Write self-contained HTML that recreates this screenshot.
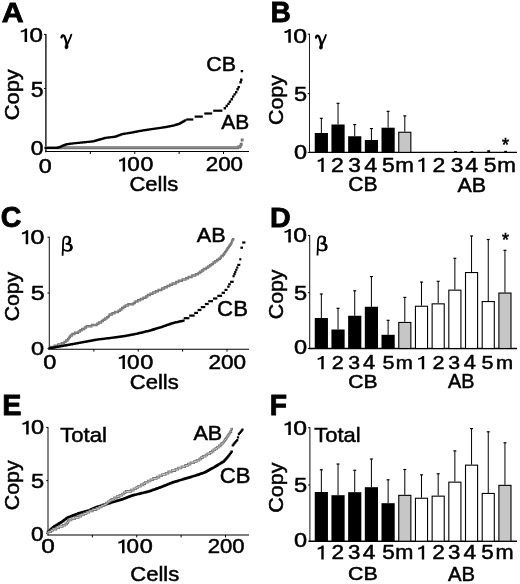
<!DOCTYPE html>
<html><head><meta charset="utf-8"><title>Figure</title>
<style>
html,body{margin:0;padding:0;background:#fff;}
body{width:520px;height:584px;overflow:hidden;font-family:"Liberation Sans",sans-serif;}
svg{display:block;}
text{fill:#000;stroke:#000;font-family:"Liberation Sans",sans-serif;paint-order:stroke fill;}
</style></head><body>
<svg width="520" height="584" viewBox="0 0 520 584">
<defs><filter id="soft" x="0" y="0" width="520" height="584" filterUnits="userSpaceOnUse"><feGaussianBlur stdDeviation="0.3"/></filter></defs>
<rect width="520" height="584" fill="#fff"/>
<g filter="url(#soft)">
<rect width="520" height="584" fill="#fff"/>
<text transform="translate(1.72,21.82) scale(1.0627,1)" font-size="28.58" font-weight="bold" stroke-width="0.8">A</text>
<text transform="translate(270.48,22.02) scale(0.9593,1)" font-size="29.31" font-weight="bold" stroke-width="0.8">B</text>
<text transform="translate(0.73,227.23) scale(0.9621,1)" font-size="29.75" font-weight="bold" stroke-width="0.8">C</text>
<text transform="translate(270.04,226.92) scale(1.0076,1)" font-size="28.44" font-weight="bold" stroke-width="0.8">D</text>
<text transform="translate(2.23,414.62) scale(0.9791,1)" font-size="29.45" font-weight="bold" stroke-width="0.8">E</text>
<text transform="translate(269.77,414.62) scale(0.9696,1)" font-size="29.16" font-weight="bold" stroke-width="0.8">F</text>
<line x1="45.90" y1="34.00" x2="45.90" y2="152.15" stroke="#000" stroke-width="1.3"/>
<line x1="45.30" y1="151.55" x2="249.00" y2="151.55" stroke="#000" stroke-width="1.1"/>
<line x1="44.10" y1="34.40" x2="45.90" y2="34.40" stroke="#000" stroke-width="1.0"/>
<line x1="44.10" y1="88.50" x2="45.90" y2="88.50" stroke="#000" stroke-width="1.0"/>
<line x1="44.10" y1="148.00" x2="45.90" y2="148.00" stroke="#000" stroke-width="1.0"/>
<line x1="90.38" y1="151.55" x2="90.38" y2="153.95" stroke="#000" stroke-width="1.0"/>
<line x1="134.75" y1="151.55" x2="134.75" y2="153.95" stroke="#000" stroke-width="1.0"/>
<line x1="179.12" y1="151.55" x2="179.12" y2="153.95" stroke="#000" stroke-width="1.0"/>
<line x1="223.50" y1="151.55" x2="223.50" y2="153.95" stroke="#000" stroke-width="1.0"/>
<path d="M27.10 28.40V42.00H24.58V31.32C23.19 32.07 21.56 32.48 20.80 32.48V30.58C22.56 30.51 24.20 29.76 25.21 28.40Z" fill="#000"/>
<text transform="translate(29.46,41.88) scale(1.2446,1)" font-size="19.43" font-weight="normal" stroke-width="0.5">0</text>
<text transform="translate(30.80,96.96) scale(1.0755,1)" font-size="21.43" font-weight="normal" stroke-width="0.5">5</text>
<text transform="translate(30.71,154.67) scale(1.1151,1)" font-size="20.57" font-weight="normal" stroke-width="0.5">0</text>
<text transform="translate(38.79,172.67) scale(1.1125,1)" font-size="20.99" font-weight="normal" stroke-width="0.5">0</text>
<path d="M125.10 157.50V171.40H122.66V160.49C121.32 161.25 119.73 161.67 119.00 161.67V159.72C120.71 159.65 122.29 158.89 123.27 157.50Z" fill="#000"/>
<text transform="translate(127.22,171.28) scale(1.1337,1)" font-size="19.86" font-weight="normal" stroke-width="0.5">0</text>
<text transform="translate(140.40,171.28) scale(1.1653,1)" font-size="19.86" font-weight="normal" stroke-width="0.5">0</text>
<text transform="translate(205.71,171.38) scale(1.1187,1)" font-size="20.00" font-weight="normal" stroke-width="0.5">200</text>
<text transform="translate(129.42,191.17) scale(1.0822,1)" font-size="20.34" font-weight="normal" stroke-width="0.5">Cells</text>
<text transform="translate(19.14,120.27) rotate(-90) scale(1.0972,1)" font-size="19.94" stroke-width="0.5">Copy</text>
<text transform="translate(206.36,71.27) scale(1.0334,1)" font-size="20.71" font-weight="normal" stroke-width="0.5">CB</text>
<text transform="translate(221.17,129.28) scale(1.0264,1)" font-size="20.44" font-weight="normal" stroke-width="0.5">AB</text>
<g transform="translate(0.00,0.00)" fill="none" stroke="#000" stroke-linecap="round"><path d="M61.5 37.4 C61.7 35.3 63.6 34.4 64.6 36.6 C65.6 39.2 66.4 41.6 66.7 44" stroke-width="2.3"/><path d="M71.4 34.6 C70.4 38 68.6 41.6 67.4 44.2" stroke-width="1.8"/><path d="M67 42.6 C65.6 44 64.8 46.5 65 47.8 C65.2 49.3 67.4 49.3 67.9 47.8 C68.3 46.5 67.9 44 67 42.6 Z" fill="#000" stroke-width="0.6"/></g>
<path d="M44.55 146.25h2.9v2.9h-2.9zM45.44 146.25h2.9v2.9h-2.9zM46.32 146.25h2.9v2.9h-2.9zM47.21 146.25h2.9v2.9h-2.9zM48.10 146.25h2.9v2.9h-2.9zM48.99 146.25h2.9v2.9h-2.9zM49.88 146.25h2.9v2.9h-2.9zM50.76 146.25h2.9v2.9h-2.9zM51.65 146.25h2.9v2.9h-2.9zM52.54 146.25h2.9v2.9h-2.9zM53.42 146.25h2.9v2.9h-2.9zM54.31 146.25h2.9v2.9h-2.9zM55.20 146.25h2.9v2.9h-2.9zM56.09 146.25h2.9v2.9h-2.9zM56.97 146.25h2.9v2.9h-2.9zM57.86 146.25h2.9v2.9h-2.9zM58.75 146.25h2.9v2.9h-2.9zM59.64 146.25h2.9v2.9h-2.9zM60.52 146.25h2.9v2.9h-2.9zM61.41 146.25h2.9v2.9h-2.9zM62.30 146.25h2.9v2.9h-2.9zM63.19 146.25h2.9v2.9h-2.9zM64.08 146.25h2.9v2.9h-2.9zM64.96 146.25h2.9v2.9h-2.9zM65.85 146.25h2.9v2.9h-2.9zM66.74 146.25h2.9v2.9h-2.9zM67.62 146.25h2.9v2.9h-2.9zM68.51 146.25h2.9v2.9h-2.9zM69.40 146.25h2.9v2.9h-2.9zM70.29 146.25h2.9v2.9h-2.9zM71.17 146.25h2.9v2.9h-2.9zM72.06 146.25h2.9v2.9h-2.9zM72.95 146.25h2.9v2.9h-2.9zM73.84 146.25h2.9v2.9h-2.9zM74.72 146.25h2.9v2.9h-2.9zM75.61 146.25h2.9v2.9h-2.9zM76.50 146.25h2.9v2.9h-2.9zM77.39 146.25h2.9v2.9h-2.9zM78.27 146.25h2.9v2.9h-2.9zM79.16 146.25h2.9v2.9h-2.9zM80.05 146.25h2.9v2.9h-2.9zM80.94 146.25h2.9v2.9h-2.9zM81.83 146.25h2.9v2.9h-2.9zM82.71 146.25h2.9v2.9h-2.9zM83.60 146.25h2.9v2.9h-2.9zM84.49 146.25h2.9v2.9h-2.9zM85.37 146.25h2.9v2.9h-2.9zM86.26 146.25h2.9v2.9h-2.9zM87.15 146.25h2.9v2.9h-2.9zM88.04 146.25h2.9v2.9h-2.9zM88.92 146.25h2.9v2.9h-2.9zM89.81 146.25h2.9v2.9h-2.9zM90.70 146.25h2.9v2.9h-2.9zM91.59 146.25h2.9v2.9h-2.9zM92.47 146.25h2.9v2.9h-2.9zM93.36 146.25h2.9v2.9h-2.9zM94.25 146.25h2.9v2.9h-2.9zM95.14 146.25h2.9v2.9h-2.9zM96.02 146.25h2.9v2.9h-2.9zM96.91 146.25h2.9v2.9h-2.9zM97.80 146.25h2.9v2.9h-2.9zM98.69 146.25h2.9v2.9h-2.9zM99.58 146.25h2.9v2.9h-2.9zM100.46 146.25h2.9v2.9h-2.9zM101.35 146.25h2.9v2.9h-2.9zM102.24 146.25h2.9v2.9h-2.9zM103.12 146.25h2.9v2.9h-2.9zM104.01 146.25h2.9v2.9h-2.9zM104.90 146.25h2.9v2.9h-2.9zM105.79 146.25h2.9v2.9h-2.9zM106.67 146.25h2.9v2.9h-2.9zM107.56 146.25h2.9v2.9h-2.9zM108.45 146.25h2.9v2.9h-2.9zM109.34 146.25h2.9v2.9h-2.9zM110.22 146.25h2.9v2.9h-2.9zM111.11 146.25h2.9v2.9h-2.9zM112.00 146.25h2.9v2.9h-2.9zM112.89 146.25h2.9v2.9h-2.9zM113.77 146.25h2.9v2.9h-2.9zM114.66 146.25h2.9v2.9h-2.9zM115.55 146.25h2.9v2.9h-2.9zM116.44 146.25h2.9v2.9h-2.9zM117.32 146.25h2.9v2.9h-2.9zM118.21 146.25h2.9v2.9h-2.9zM119.10 146.25h2.9v2.9h-2.9zM119.99 146.25h2.9v2.9h-2.9zM120.88 146.25h2.9v2.9h-2.9zM121.76 146.25h2.9v2.9h-2.9zM122.65 146.25h2.9v2.9h-2.9zM123.54 146.25h2.9v2.9h-2.9zM124.42 146.25h2.9v2.9h-2.9zM125.31 146.25h2.9v2.9h-2.9zM126.20 146.25h2.9v2.9h-2.9zM127.09 146.25h2.9v2.9h-2.9zM127.98 146.25h2.9v2.9h-2.9zM128.86 146.25h2.9v2.9h-2.9zM129.75 146.25h2.9v2.9h-2.9zM130.64 146.25h2.9v2.9h-2.9zM131.53 146.25h2.9v2.9h-2.9zM132.41 146.25h2.9v2.9h-2.9zM133.30 146.25h2.9v2.9h-2.9zM134.19 146.25h2.9v2.9h-2.9zM135.07 146.25h2.9v2.9h-2.9zM135.96 146.25h2.9v2.9h-2.9zM136.85 146.25h2.9v2.9h-2.9zM137.74 146.25h2.9v2.9h-2.9zM138.62 146.25h2.9v2.9h-2.9zM139.51 146.25h2.9v2.9h-2.9zM140.40 146.25h2.9v2.9h-2.9zM141.29 146.25h2.9v2.9h-2.9zM142.18 146.25h2.9v2.9h-2.9zM143.06 146.25h2.9v2.9h-2.9zM143.95 146.25h2.9v2.9h-2.9zM144.84 146.25h2.9v2.9h-2.9zM145.73 146.25h2.9v2.9h-2.9zM146.61 146.25h2.9v2.9h-2.9zM147.50 146.25h2.9v2.9h-2.9zM148.39 146.25h2.9v2.9h-2.9zM149.28 146.25h2.9v2.9h-2.9zM150.16 146.25h2.9v2.9h-2.9zM151.05 146.25h2.9v2.9h-2.9zM151.94 146.25h2.9v2.9h-2.9zM152.82 146.25h2.9v2.9h-2.9zM153.71 146.25h2.9v2.9h-2.9zM154.60 146.25h2.9v2.9h-2.9zM155.49 146.25h2.9v2.9h-2.9zM156.38 146.25h2.9v2.9h-2.9zM157.26 146.25h2.9v2.9h-2.9zM158.15 146.25h2.9v2.9h-2.9zM159.04 146.25h2.9v2.9h-2.9zM159.93 146.25h2.9v2.9h-2.9zM160.81 146.25h2.9v2.9h-2.9zM161.70 146.25h2.9v2.9h-2.9zM162.59 146.25h2.9v2.9h-2.9zM163.48 146.25h2.9v2.9h-2.9zM164.36 146.25h2.9v2.9h-2.9zM165.25 146.25h2.9v2.9h-2.9zM166.14 146.25h2.9v2.9h-2.9zM167.03 146.25h2.9v2.9h-2.9zM167.91 146.25h2.9v2.9h-2.9zM168.80 146.25h2.9v2.9h-2.9zM169.69 146.25h2.9v2.9h-2.9zM170.57 146.25h2.9v2.9h-2.9zM171.46 146.25h2.9v2.9h-2.9zM172.35 146.25h2.9v2.9h-2.9zM173.24 146.25h2.9v2.9h-2.9zM174.12 146.25h2.9v2.9h-2.9zM175.01 146.25h2.9v2.9h-2.9zM175.90 146.25h2.9v2.9h-2.9zM176.79 146.25h2.9v2.9h-2.9zM177.68 146.25h2.9v2.9h-2.9zM178.56 146.25h2.9v2.9h-2.9zM179.45 146.25h2.9v2.9h-2.9zM180.34 146.25h2.9v2.9h-2.9zM181.22 146.25h2.9v2.9h-2.9zM182.11 146.25h2.9v2.9h-2.9zM183.00 146.25h2.9v2.9h-2.9zM183.89 146.25h2.9v2.9h-2.9zM184.78 146.25h2.9v2.9h-2.9zM185.66 146.25h2.9v2.9h-2.9zM186.55 146.25h2.9v2.9h-2.9zM187.44 146.25h2.9v2.9h-2.9zM188.33 146.25h2.9v2.9h-2.9zM189.21 146.25h2.9v2.9h-2.9zM190.10 146.25h2.9v2.9h-2.9zM190.99 146.25h2.9v2.9h-2.9zM191.88 146.25h2.9v2.9h-2.9zM192.76 146.25h2.9v2.9h-2.9zM193.65 146.25h2.9v2.9h-2.9zM194.54 146.25h2.9v2.9h-2.9zM195.43 146.25h2.9v2.9h-2.9zM196.31 146.25h2.9v2.9h-2.9zM197.20 146.25h2.9v2.9h-2.9zM198.09 146.25h2.9v2.9h-2.9zM198.97 146.25h2.9v2.9h-2.9zM199.86 146.25h2.9v2.9h-2.9zM200.75 146.25h2.9v2.9h-2.9zM201.64 146.25h2.9v2.9h-2.9zM202.53 146.25h2.9v2.9h-2.9zM203.41 146.25h2.9v2.9h-2.9zM204.30 146.25h2.9v2.9h-2.9zM205.19 146.25h2.9v2.9h-2.9zM206.08 146.25h2.9v2.9h-2.9zM206.96 146.25h2.9v2.9h-2.9zM207.85 146.25h2.9v2.9h-2.9zM208.74 146.25h2.9v2.9h-2.9zM209.62 146.25h2.9v2.9h-2.9zM210.51 146.25h2.9v2.9h-2.9zM211.40 146.25h2.9v2.9h-2.9zM212.29 146.25h2.9v2.9h-2.9zM213.18 146.25h2.9v2.9h-2.9zM214.06 146.25h2.9v2.9h-2.9zM214.95 146.25h2.9v2.9h-2.9zM215.84 146.25h2.9v2.9h-2.9zM216.72 146.25h2.9v2.9h-2.9zM217.61 146.25h2.9v2.9h-2.9zM218.50 146.25h2.9v2.9h-2.9zM219.39 146.25h2.9v2.9h-2.9zM220.28 146.25h2.9v2.9h-2.9zM221.16 146.25h2.9v2.9h-2.9zM222.05 146.25h2.9v2.9h-2.9zM222.94 146.25h2.9v2.9h-2.9zM223.82 146.25h2.9v2.9h-2.9zM224.71 146.25h2.9v2.9h-2.9zM225.60 146.25h2.9v2.9h-2.9zM226.49 146.25h2.9v2.9h-2.9zM227.38 146.25h2.9v2.9h-2.9zM228.26 146.25h2.9v2.9h-2.9zM229.15 146.25h2.9v2.9h-2.9zM230.04 146.25h2.9v2.9h-2.9zM230.93 146.25h2.9v2.9h-2.9zM231.81 146.25h2.9v2.9h-2.9zM232.70 146.25h2.9v2.9h-2.9zM233.59 146.25h2.9v2.9h-2.9zM234.47 146.25h2.9v2.9h-2.9zM235.36 146.25h2.9v2.9h-2.9zM236.25 146.25h2.9v2.9h-2.9zM237.14 145.55h2.9v2.9h-2.9zM238.03 145.55h2.9v2.9h-2.9zM238.91 144.85h2.9v2.9h-2.9zM239.80 142.75h2.9v2.9h-2.9zM240.69 138.55h2.9v2.9h-2.9z" fill="#727272"/>
<path d="M45.60 147.30h0.8v0.8h-0.8zM46.49 147.30h0.8v0.8h-0.8zM47.38 147.30h0.8v0.8h-0.8zM48.26 147.30h0.8v0.8h-0.8zM49.15 147.30h0.8v0.8h-0.8zM50.04 147.30h0.8v0.8h-0.8zM50.93 147.30h0.8v0.8h-0.8zM51.81 147.30h0.8v0.8h-0.8zM52.70 147.30h0.8v0.8h-0.8zM53.59 147.30h0.8v0.8h-0.8zM54.48 147.30h0.8v0.8h-0.8zM55.36 147.30h0.8v0.8h-0.8zM56.25 147.30h0.8v0.8h-0.8zM57.14 147.30h0.8v0.8h-0.8zM58.02 147.30h0.8v0.8h-0.8zM58.91 147.30h0.8v0.8h-0.8zM59.80 147.30h0.8v0.8h-0.8zM60.69 147.30h0.8v0.8h-0.8zM61.58 147.30h0.8v0.8h-0.8zM62.46 147.30h0.8v0.8h-0.8zM63.35 147.30h0.8v0.8h-0.8zM64.24 147.30h0.8v0.8h-0.8zM65.12 147.30h0.8v0.8h-0.8zM66.01 147.30h0.8v0.8h-0.8zM66.90 147.30h0.8v0.8h-0.8zM67.79 147.30h0.8v0.8h-0.8zM68.67 147.30h0.8v0.8h-0.8zM69.56 147.30h0.8v0.8h-0.8zM70.45 147.30h0.8v0.8h-0.8zM71.34 147.30h0.8v0.8h-0.8zM72.22 147.30h0.8v0.8h-0.8zM73.11 147.30h0.8v0.8h-0.8zM74.00 147.30h0.8v0.8h-0.8zM74.89 147.30h0.8v0.8h-0.8zM75.77 147.30h0.8v0.8h-0.8zM76.66 147.30h0.8v0.8h-0.8zM77.55 147.30h0.8v0.8h-0.8zM78.44 147.30h0.8v0.8h-0.8zM79.32 147.30h0.8v0.8h-0.8zM80.21 147.30h0.8v0.8h-0.8zM81.10 147.30h0.8v0.8h-0.8zM81.99 147.30h0.8v0.8h-0.8zM82.88 147.30h0.8v0.8h-0.8zM83.76 147.30h0.8v0.8h-0.8zM84.65 147.30h0.8v0.8h-0.8zM85.54 147.30h0.8v0.8h-0.8zM86.42 147.30h0.8v0.8h-0.8zM87.31 147.30h0.8v0.8h-0.8zM88.20 147.30h0.8v0.8h-0.8zM89.09 147.30h0.8v0.8h-0.8zM89.97 147.30h0.8v0.8h-0.8zM90.86 147.30h0.8v0.8h-0.8zM91.75 147.30h0.8v0.8h-0.8zM92.64 147.30h0.8v0.8h-0.8zM93.52 147.30h0.8v0.8h-0.8zM94.41 147.30h0.8v0.8h-0.8zM95.30 147.30h0.8v0.8h-0.8zM96.19 147.30h0.8v0.8h-0.8zM97.07 147.30h0.8v0.8h-0.8zM97.96 147.30h0.8v0.8h-0.8zM98.85 147.30h0.8v0.8h-0.8zM99.74 147.30h0.8v0.8h-0.8zM100.62 147.30h0.8v0.8h-0.8zM101.51 147.30h0.8v0.8h-0.8zM102.40 147.30h0.8v0.8h-0.8zM103.29 147.30h0.8v0.8h-0.8zM104.17 147.30h0.8v0.8h-0.8zM105.06 147.30h0.8v0.8h-0.8zM105.95 147.30h0.8v0.8h-0.8zM106.84 147.30h0.8v0.8h-0.8zM107.72 147.30h0.8v0.8h-0.8zM108.61 147.30h0.8v0.8h-0.8zM109.50 147.30h0.8v0.8h-0.8zM110.39 147.30h0.8v0.8h-0.8zM111.27 147.30h0.8v0.8h-0.8zM112.16 147.30h0.8v0.8h-0.8zM113.05 147.30h0.8v0.8h-0.8zM113.94 147.30h0.8v0.8h-0.8zM114.82 147.30h0.8v0.8h-0.8zM115.71 147.30h0.8v0.8h-0.8zM116.60 147.30h0.8v0.8h-0.8zM117.49 147.30h0.8v0.8h-0.8zM118.37 147.30h0.8v0.8h-0.8zM119.26 147.30h0.8v0.8h-0.8zM120.15 147.30h0.8v0.8h-0.8zM121.04 147.30h0.8v0.8h-0.8zM121.92 147.30h0.8v0.8h-0.8zM122.81 147.30h0.8v0.8h-0.8zM123.70 147.30h0.8v0.8h-0.8zM124.59 147.30h0.8v0.8h-0.8zM125.47 147.30h0.8v0.8h-0.8zM126.36 147.30h0.8v0.8h-0.8zM127.25 147.30h0.8v0.8h-0.8zM128.14 147.30h0.8v0.8h-0.8zM129.03 147.30h0.8v0.8h-0.8zM129.91 147.30h0.8v0.8h-0.8zM130.80 147.30h0.8v0.8h-0.8zM131.69 147.30h0.8v0.8h-0.8zM132.57 147.30h0.8v0.8h-0.8zM133.46 147.30h0.8v0.8h-0.8zM134.35 147.30h0.8v0.8h-0.8zM135.24 147.30h0.8v0.8h-0.8zM136.12 147.30h0.8v0.8h-0.8zM137.01 147.30h0.8v0.8h-0.8zM137.90 147.30h0.8v0.8h-0.8zM138.79 147.30h0.8v0.8h-0.8zM139.67 147.30h0.8v0.8h-0.8zM140.56 147.30h0.8v0.8h-0.8zM141.45 147.30h0.8v0.8h-0.8zM142.34 147.30h0.8v0.8h-0.8zM143.22 147.30h0.8v0.8h-0.8zM144.11 147.30h0.8v0.8h-0.8zM145.00 147.30h0.8v0.8h-0.8zM145.89 147.30h0.8v0.8h-0.8zM146.78 147.30h0.8v0.8h-0.8zM147.66 147.30h0.8v0.8h-0.8zM148.55 147.30h0.8v0.8h-0.8zM149.44 147.30h0.8v0.8h-0.8zM150.32 147.30h0.8v0.8h-0.8zM151.21 147.30h0.8v0.8h-0.8zM152.10 147.30h0.8v0.8h-0.8zM152.99 147.30h0.8v0.8h-0.8zM153.87 147.30h0.8v0.8h-0.8zM154.76 147.30h0.8v0.8h-0.8zM155.65 147.30h0.8v0.8h-0.8zM156.54 147.30h0.8v0.8h-0.8zM157.42 147.30h0.8v0.8h-0.8zM158.31 147.30h0.8v0.8h-0.8zM159.20 147.30h0.8v0.8h-0.8zM160.09 147.30h0.8v0.8h-0.8zM160.97 147.30h0.8v0.8h-0.8zM161.86 147.30h0.8v0.8h-0.8zM162.75 147.30h0.8v0.8h-0.8zM163.64 147.30h0.8v0.8h-0.8zM164.53 147.30h0.8v0.8h-0.8zM165.41 147.30h0.8v0.8h-0.8zM166.30 147.30h0.8v0.8h-0.8zM167.19 147.30h0.8v0.8h-0.8zM168.07 147.30h0.8v0.8h-0.8zM168.96 147.30h0.8v0.8h-0.8zM169.85 147.30h0.8v0.8h-0.8zM170.74 147.30h0.8v0.8h-0.8zM171.62 147.30h0.8v0.8h-0.8zM172.51 147.30h0.8v0.8h-0.8zM173.40 147.30h0.8v0.8h-0.8zM174.29 147.30h0.8v0.8h-0.8zM175.17 147.30h0.8v0.8h-0.8zM176.06 147.30h0.8v0.8h-0.8zM176.95 147.30h0.8v0.8h-0.8zM177.84 147.30h0.8v0.8h-0.8zM178.72 147.30h0.8v0.8h-0.8zM179.61 147.30h0.8v0.8h-0.8zM180.50 147.30h0.8v0.8h-0.8zM181.39 147.30h0.8v0.8h-0.8zM182.27 147.30h0.8v0.8h-0.8zM183.16 147.30h0.8v0.8h-0.8zM184.05 147.30h0.8v0.8h-0.8zM184.94 147.30h0.8v0.8h-0.8zM185.82 147.30h0.8v0.8h-0.8zM186.71 147.30h0.8v0.8h-0.8zM187.60 147.30h0.8v0.8h-0.8zM188.49 147.30h0.8v0.8h-0.8zM189.38 147.30h0.8v0.8h-0.8zM190.26 147.30h0.8v0.8h-0.8zM191.15 147.30h0.8v0.8h-0.8zM192.04 147.30h0.8v0.8h-0.8zM192.92 147.30h0.8v0.8h-0.8zM193.81 147.30h0.8v0.8h-0.8zM194.70 147.30h0.8v0.8h-0.8zM195.59 147.30h0.8v0.8h-0.8zM196.47 147.30h0.8v0.8h-0.8zM197.36 147.30h0.8v0.8h-0.8zM198.25 147.30h0.8v0.8h-0.8zM199.14 147.30h0.8v0.8h-0.8zM200.02 147.30h0.8v0.8h-0.8zM200.91 147.30h0.8v0.8h-0.8zM201.80 147.30h0.8v0.8h-0.8zM202.69 147.30h0.8v0.8h-0.8zM203.57 147.30h0.8v0.8h-0.8zM204.46 147.30h0.8v0.8h-0.8zM205.35 147.30h0.8v0.8h-0.8zM206.24 147.30h0.8v0.8h-0.8zM207.12 147.30h0.8v0.8h-0.8zM208.01 147.30h0.8v0.8h-0.8zM208.90 147.30h0.8v0.8h-0.8zM209.79 147.30h0.8v0.8h-0.8zM210.67 147.30h0.8v0.8h-0.8zM211.56 147.30h0.8v0.8h-0.8zM212.45 147.30h0.8v0.8h-0.8zM213.34 147.30h0.8v0.8h-0.8zM214.22 147.30h0.8v0.8h-0.8zM215.11 147.30h0.8v0.8h-0.8zM216.00 147.30h0.8v0.8h-0.8zM216.89 147.30h0.8v0.8h-0.8zM217.77 147.30h0.8v0.8h-0.8zM218.66 147.30h0.8v0.8h-0.8zM219.55 147.30h0.8v0.8h-0.8zM220.44 147.30h0.8v0.8h-0.8zM221.32 147.30h0.8v0.8h-0.8zM222.21 147.30h0.8v0.8h-0.8zM223.10 147.30h0.8v0.8h-0.8zM223.99 147.30h0.8v0.8h-0.8zM224.87 147.30h0.8v0.8h-0.8zM225.76 147.30h0.8v0.8h-0.8zM226.65 147.30h0.8v0.8h-0.8zM227.54 147.30h0.8v0.8h-0.8zM228.42 147.30h0.8v0.8h-0.8zM229.31 147.30h0.8v0.8h-0.8zM230.20 147.30h0.8v0.8h-0.8zM231.09 147.30h0.8v0.8h-0.8zM231.97 147.30h0.8v0.8h-0.8zM232.86 147.30h0.8v0.8h-0.8zM233.75 147.30h0.8v0.8h-0.8zM234.64 147.30h0.8v0.8h-0.8zM235.52 147.30h0.8v0.8h-0.8zM236.41 147.30h0.8v0.8h-0.8zM237.30 147.30h0.8v0.8h-0.8zM238.19 146.60h0.8v0.8h-0.8zM239.07 146.60h0.8v0.8h-0.8zM239.96 145.90h0.8v0.8h-0.8zM240.85 143.80h0.8v0.8h-0.8zM241.74 139.60h0.8v0.8h-0.8z" fill="#989898"/>
<path d="M44.90 146.90h2.2v2.2h-2.2zM45.79 146.90h2.2v2.2h-2.2zM46.67 146.90h2.2v2.2h-2.2zM47.56 146.90h2.2v2.2h-2.2zM48.45 146.90h2.2v2.2h-2.2zM49.34 146.90h2.2v2.2h-2.2zM50.23 146.90h2.2v2.2h-2.2zM51.11 146.90h2.2v2.2h-2.2zM52.00 146.90h2.2v2.2h-2.2zM52.89 146.90h2.2v2.2h-2.2zM53.77 146.90h2.2v2.2h-2.2zM54.66 146.90h2.2v2.2h-2.2zM55.55 146.90h2.2v2.2h-2.2zM56.44 146.72h2.2v2.2h-2.2zM57.32 146.43h2.2v2.2h-2.2zM58.21 146.13h2.2v2.2h-2.2zM59.10 145.81h2.2v2.2h-2.2zM59.99 145.39h2.2v2.2h-2.2zM60.88 144.98h2.2v2.2h-2.2zM61.76 144.56h2.2v2.2h-2.2zM62.65 144.24h2.2v2.2h-2.2zM63.54 143.93h2.2v2.2h-2.2zM64.43 143.62h2.2v2.2h-2.2zM65.31 143.31h2.2v2.2h-2.2zM66.20 143.06h2.2v2.2h-2.2zM67.09 142.95h2.2v2.2h-2.2zM67.98 142.84h2.2v2.2h-2.2zM68.86 142.73h2.2v2.2h-2.2zM69.75 142.62h2.2v2.2h-2.2zM70.64 142.51h2.2v2.2h-2.2zM71.53 142.40h2.2v2.2h-2.2zM72.41 142.29h2.2v2.2h-2.2zM73.30 142.17h2.2v2.2h-2.2zM74.19 142.07h2.2v2.2h-2.2zM75.08 141.98h2.2v2.2h-2.2zM75.96 141.89h2.2v2.2h-2.2zM76.85 141.81h2.2v2.2h-2.2zM77.74 141.72h2.2v2.2h-2.2zM78.62 141.63h2.2v2.2h-2.2zM79.51 141.54h2.2v2.2h-2.2zM80.40 141.45h2.2v2.2h-2.2zM81.29 141.36h2.2v2.2h-2.2zM82.18 141.27h2.2v2.2h-2.2zM83.06 141.18h2.2v2.2h-2.2zM83.95 141.09h2.2v2.2h-2.2zM84.84 141.00h2.2v2.2h-2.2zM85.72 140.91h2.2v2.2h-2.2zM86.61 140.82h2.2v2.2h-2.2zM87.50 140.73h2.2v2.2h-2.2zM88.39 140.64h2.2v2.2h-2.2zM89.28 140.55h2.2v2.2h-2.2zM90.16 140.46h2.2v2.2h-2.2zM91.05 140.37h2.2v2.2h-2.2zM91.94 140.28h2.2v2.2h-2.2zM92.83 140.16h2.2v2.2h-2.2zM93.71 139.85h2.2v2.2h-2.2zM94.60 139.55h2.2v2.2h-2.2zM95.49 139.24h2.2v2.2h-2.2zM96.38 138.98h2.2v2.2h-2.2zM97.26 138.75h2.2v2.2h-2.2zM98.15 138.53h2.2v2.2h-2.2zM99.04 138.30h2.2v2.2h-2.2zM99.93 138.08h2.2v2.2h-2.2zM100.81 137.85h2.2v2.2h-2.2zM101.70 137.63h2.2v2.2h-2.2zM102.59 137.34h2.2v2.2h-2.2zM103.47 136.98h2.2v2.2h-2.2zM104.36 136.75h2.2v2.2h-2.2zM105.25 136.64h2.2v2.2h-2.2zM106.14 136.54h2.2v2.2h-2.2zM107.03 136.44h2.2v2.2h-2.2zM107.91 136.34h2.2v2.2h-2.2zM108.80 136.23h2.2v2.2h-2.2zM109.69 136.13h2.2v2.2h-2.2zM110.58 136.03h2.2v2.2h-2.2zM111.46 135.93h2.2v2.2h-2.2zM112.35 135.82h2.2v2.2h-2.2zM113.24 135.72h2.2v2.2h-2.2zM114.12 135.62h2.2v2.2h-2.2zM115.01 135.33h2.2v2.2h-2.2zM115.90 135.00h2.2v2.2h-2.2zM116.79 134.66h2.2v2.2h-2.2zM117.67 134.33h2.2v2.2h-2.2zM118.56 133.99h2.2v2.2h-2.2zM119.45 133.66h2.2v2.2h-2.2zM120.34 133.32h2.2v2.2h-2.2zM121.23 133.00h2.2v2.2h-2.2zM122.11 132.85h2.2v2.2h-2.2zM123.00 132.71h2.2v2.2h-2.2zM123.89 132.57h2.2v2.2h-2.2zM124.78 132.42h2.2v2.2h-2.2zM125.66 132.28h2.2v2.2h-2.2zM126.55 132.14h2.2v2.2h-2.2zM127.44 132.00h2.2v2.2h-2.2zM128.33 131.85h2.2v2.2h-2.2zM129.21 131.71h2.2v2.2h-2.2zM130.10 131.56h2.2v2.2h-2.2zM130.99 131.39h2.2v2.2h-2.2zM131.88 131.21h2.2v2.2h-2.2zM132.76 131.03h2.2v2.2h-2.2zM133.65 130.86h2.2v2.2h-2.2zM134.54 130.68h2.2v2.2h-2.2zM135.42 130.51h2.2v2.2h-2.2zM136.31 130.33h2.2v2.2h-2.2zM137.20 130.16h2.2v2.2h-2.2zM138.09 129.98h2.2v2.2h-2.2zM138.97 129.82h2.2v2.2h-2.2zM139.86 129.68h2.2v2.2h-2.2zM140.75 129.54h2.2v2.2h-2.2zM141.64 129.40h2.2v2.2h-2.2zM142.53 129.25h2.2v2.2h-2.2zM143.41 129.11h2.2v2.2h-2.2zM144.30 128.97h2.2v2.2h-2.2zM145.19 128.82h2.2v2.2h-2.2zM146.08 128.68h2.2v2.2h-2.2zM146.96 128.54h2.2v2.2h-2.2zM147.85 128.41h2.2v2.2h-2.2zM148.74 128.29h2.2v2.2h-2.2zM149.62 128.16h2.2v2.2h-2.2zM150.51 128.04h2.2v2.2h-2.2zM151.40 127.91h2.2v2.2h-2.2zM152.29 127.79h2.2v2.2h-2.2zM153.17 127.67h2.2v2.2h-2.2zM154.06 127.54h2.2v2.2h-2.2zM154.95 127.42h2.2v2.2h-2.2zM155.84 127.29h2.2v2.2h-2.2zM156.72 127.16h2.2v2.2h-2.2zM157.61 127.03h2.2v2.2h-2.2zM158.50 126.90h2.2v2.2h-2.2zM159.39 126.76h2.2v2.2h-2.2zM160.28 126.63h2.2v2.2h-2.2zM161.16 126.50h2.2v2.2h-2.2zM162.05 126.37h2.2v2.2h-2.2zM162.94 126.23h2.2v2.2h-2.2zM163.83 126.10h2.2v2.2h-2.2zM164.71 125.96h2.2v2.2h-2.2zM165.60 125.78h2.2v2.2h-2.2zM166.49 125.61h2.2v2.2h-2.2zM167.38 125.43h2.2v2.2h-2.2zM168.26 125.26h2.2v2.2h-2.2zM169.15 125.08h2.2v2.2h-2.2zM170.04 124.91h2.2v2.2h-2.2zM170.92 124.73h2.2v2.2h-2.2zM171.81 124.55h2.2v2.2h-2.2zM172.70 124.38h2.2v2.2h-2.2zM173.59 124.14h2.2v2.2h-2.2zM174.47 123.85h2.2v2.2h-2.2zM175.36 123.56h2.2v2.2h-2.2zM176.25 123.27h2.2v2.2h-2.2zM177.14 122.98h2.2v2.2h-2.2zM178.03 122.69h2.2v2.2h-2.2zM178.91 122.27h2.2v2.2h-2.2zM179.80 121.80h2.2v2.2h-2.2zM180.69 121.32h2.2v2.2h-2.2zM181.57 120.85h2.2v2.2h-2.2zM182.46 120.37h2.2v2.2h-2.2zM183.35 119.77h2.2v2.2h-2.2zM184.24 119.14h2.2v2.2h-2.2z" fill="#000"/>
<rect x="186.20" y="118.40" width="7.10" height="2.2" fill="#000"/>
<rect x="194.60" y="115.50" width="8.20" height="2.2" fill="#000"/>
<rect x="204.30" y="112.40" width="7.90" height="2.2" fill="#000"/>
<rect x="213.20" y="109.60" width="9.20" height="2.2" fill="#000"/>
<path d="M223.60 107.00h2.4v2.4h-2.4zM225.50 104.80h2.4v2.4h-2.4zM227.30 102.70h2.4v2.4h-2.4zM228.70 100.50h2.4v2.4h-2.4zM230.50 98.00h2.4v2.4h-2.4zM231.90 95.40h2.4v2.4h-2.4zM233.40 93.20h2.4v2.4h-2.4zM235.00 91.00h2.4v2.4h-2.4zM236.40 88.10h2.4v2.4h-2.4zM237.50 85.90h2.4v2.4h-2.4zM239.40 81.10h2.4v2.4h-2.4zM240.10 78.60h2.4v2.4h-2.4zM240.70 69.90h2.4v2.4h-2.4z" fill="#000"/>
<line x1="49.30" y1="236.80" x2="49.30" y2="349.80" stroke="#1a1a1a" stroke-width="1.05"/>
<line x1="48.70" y1="349.20" x2="249.00" y2="349.20" stroke="#000" stroke-width="1.1"/>
<line x1="47.50" y1="237.20" x2="49.30" y2="237.20" stroke="#000" stroke-width="1.0"/>
<line x1="47.50" y1="293.00" x2="49.30" y2="293.00" stroke="#000" stroke-width="1.0"/>
<line x1="47.50" y1="348.60" x2="49.30" y2="348.60" stroke="#000" stroke-width="1.0"/>
<line x1="93.88" y1="349.20" x2="93.88" y2="351.60" stroke="#000" stroke-width="1.0"/>
<line x1="138.25" y1="349.20" x2="138.25" y2="351.60" stroke="#000" stroke-width="1.0"/>
<line x1="182.62" y1="349.20" x2="182.62" y2="351.60" stroke="#000" stroke-width="1.0"/>
<line x1="227.00" y1="349.20" x2="227.00" y2="351.60" stroke="#000" stroke-width="1.0"/>
<path d="M28.20 230.30V244.30H25.68V233.31C24.29 234.08 22.66 234.50 21.90 234.50V232.54C23.66 232.47 25.30 231.70 26.31 230.30Z" fill="#000"/>
<text transform="translate(30.52,244.18) scale(1.2513,1)" font-size="20.00" font-weight="normal" stroke-width="0.5">0</text>
<text transform="translate(30.82,300.38) scale(1.2762,1)" font-size="19.71" font-weight="normal" stroke-width="0.5">5</text>
<text transform="translate(30.88,355.49) scale(1.2486,1)" font-size="18.87" font-weight="normal" stroke-width="0.5">0</text>
<text transform="translate(43.28,368.58) scale(1.2035,1)" font-size="19.58" font-weight="normal" stroke-width="0.5">0</text>
<path d="M124.90 355.10V368.90H122.46V358.07C121.12 358.83 119.53 359.24 118.80 359.24V357.31C120.51 357.24 122.09 356.48 123.07 355.10Z" fill="#000"/>
<text transform="translate(127.02,368.78) scale(1.1418,1)" font-size="19.72" font-weight="normal" stroke-width="0.5">0</text>
<text transform="translate(140.18,368.78) scale(1.1949,1)" font-size="19.72" font-weight="normal" stroke-width="0.5">0</text>
<text transform="translate(208.40,368.98) scale(1.1282,1)" font-size="20.00" font-weight="normal" stroke-width="0.5">200</text>
<text transform="translate(129.82,388.77) scale(1.0969,1)" font-size="20.07" font-weight="normal" stroke-width="0.5">Cells</text>
<text transform="translate(19.34,321.34) rotate(-90) scale(1.0412,1)" font-size="20.39" stroke-width="0.5">Copy</text>
<text transform="translate(196.87,241.57) scale(1.0422,1)" font-size="20.73" font-weight="normal" stroke-width="0.5">AB</text>
<text transform="translate(217.12,316.36) scale(1.0288,1)" font-size="21.55" font-weight="normal" stroke-width="0.5">CB</text>
<g transform="translate(0.00,0.00)" fill="none" stroke="#000" stroke-linecap="butt" stroke-linejoin="round"><path d="M62.6 255.8 L63.2 241 C63.3 237.6 65 236.6 66.8 236.6 C69 236.6 70.2 238 70.2 240 C70.2 242.2 68.8 243.6 66.3 243.8 C69.5 243.9 71.7 245.2 71.7 247.3 C71.7 249.6 69.8 250.8 67.5 250.8 C66 250.8 64.6 250.4 63.3 249.4" stroke-width="1.8"/><path d="M69.6 238.2 C70.1 239.4 70.1 240.8 69.5 242" stroke-width="2.5" stroke-linecap="round"/><path d="M70.9 245.6 C71.5 246.8 71.5 248.2 70.7 249.4" stroke-width="2.6" stroke-linecap="round"/></g>
<path d="M48.25 347.15h2.5v2.5h-2.5zM49.14 347.15h2.5v2.5h-2.5zM50.02 345.85h2.5v2.5h-2.5zM50.91 345.85h2.5v2.5h-2.5zM51.80 345.85h2.5v2.5h-2.5zM52.69 345.85h2.5v2.5h-2.5zM53.58 344.55h2.5v2.5h-2.5zM54.46 344.55h2.5v2.5h-2.5zM55.35 344.55h2.5v2.5h-2.5zM56.24 344.55h2.5v2.5h-2.5zM57.12 343.25h2.5v2.5h-2.5zM58.01 343.25h2.5v2.5h-2.5zM58.90 343.25h2.5v2.5h-2.5zM59.79 343.25h2.5v2.5h-2.5zM60.67 341.95h2.5v2.5h-2.5zM61.56 341.95h2.5v2.5h-2.5zM62.45 341.95h2.5v2.5h-2.5zM63.34 340.65h2.5v2.5h-2.5zM64.22 340.65h2.5v2.5h-2.5zM65.11 339.35h2.5v2.5h-2.5zM66.00 339.35h2.5v2.5h-2.5zM66.89 338.05h2.5v2.5h-2.5zM67.78 336.75h2.5v2.5h-2.5zM68.66 335.45h2.5v2.5h-2.5zM69.55 334.15h2.5v2.5h-2.5zM70.44 334.15h2.5v2.5h-2.5zM71.33 332.85h2.5v2.5h-2.5zM72.21 332.85h2.5v2.5h-2.5zM73.10 332.85h2.5v2.5h-2.5zM73.99 331.55h2.5v2.5h-2.5zM74.88 331.55h2.5v2.5h-2.5zM75.76 331.55h2.5v2.5h-2.5zM76.65 331.55h2.5v2.5h-2.5zM77.54 330.25h2.5v2.5h-2.5zM78.42 330.25h2.5v2.5h-2.5zM79.31 328.95h2.5v2.5h-2.5zM80.20 328.95h2.5v2.5h-2.5zM81.09 327.65h2.5v2.5h-2.5zM81.97 327.65h2.5v2.5h-2.5zM82.86 327.65h2.5v2.5h-2.5zM83.75 326.35h2.5v2.5h-2.5zM84.64 326.35h2.5v2.5h-2.5zM85.53 325.05h2.5v2.5h-2.5zM86.41 325.05h2.5v2.5h-2.5zM87.30 325.05h2.5v2.5h-2.5zM88.19 325.05h2.5v2.5h-2.5zM89.07 325.05h2.5v2.5h-2.5zM89.96 325.05h2.5v2.5h-2.5zM90.85 323.75h2.5v2.5h-2.5zM91.74 323.75h2.5v2.5h-2.5zM92.62 323.75h2.5v2.5h-2.5zM93.51 323.75h2.5v2.5h-2.5zM94.40 323.75h2.5v2.5h-2.5zM95.29 323.75h2.5v2.5h-2.5zM96.17 322.45h2.5v2.5h-2.5zM97.06 322.45h2.5v2.5h-2.5zM97.95 321.15h2.5v2.5h-2.5zM98.84 321.15h2.5v2.5h-2.5zM99.72 321.15h2.5v2.5h-2.5zM100.61 319.85h2.5v2.5h-2.5zM101.50 319.85h2.5v2.5h-2.5zM102.39 318.55h2.5v2.5h-2.5zM103.28 318.55h2.5v2.5h-2.5zM104.16 317.25h2.5v2.5h-2.5zM105.05 317.25h2.5v2.5h-2.5zM105.94 315.95h2.5v2.5h-2.5zM106.82 315.95h2.5v2.5h-2.5zM107.71 314.65h2.5v2.5h-2.5zM108.60 313.35h2.5v2.5h-2.5zM109.49 313.35h2.5v2.5h-2.5zM110.38 313.35h2.5v2.5h-2.5zM111.26 312.05h2.5v2.5h-2.5zM112.15 312.05h2.5v2.5h-2.5zM113.04 312.05h2.5v2.5h-2.5zM113.92 310.75h2.5v2.5h-2.5zM114.81 310.75h2.5v2.5h-2.5zM115.70 310.75h2.5v2.5h-2.5zM116.59 310.75h2.5v2.5h-2.5zM117.47 309.45h2.5v2.5h-2.5zM118.36 309.45h2.5v2.5h-2.5zM119.25 308.15h2.5v2.5h-2.5zM120.14 308.15h2.5v2.5h-2.5zM121.02 306.85h2.5v2.5h-2.5zM121.91 306.85h2.5v2.5h-2.5zM122.80 305.55h2.5v2.5h-2.5zM123.69 305.55h2.5v2.5h-2.5zM124.58 304.25h2.5v2.5h-2.5zM125.46 304.25h2.5v2.5h-2.5zM126.35 304.25h2.5v2.5h-2.5zM127.24 302.95h2.5v2.5h-2.5zM128.12 302.95h2.5v2.5h-2.5zM129.01 302.95h2.5v2.5h-2.5zM129.90 302.95h2.5v2.5h-2.5zM130.79 302.95h2.5v2.5h-2.5zM131.68 302.95h2.5v2.5h-2.5zM132.56 301.65h2.5v2.5h-2.5zM133.45 301.65h2.5v2.5h-2.5zM134.34 300.35h2.5v2.5h-2.5zM135.22 300.35h2.5v2.5h-2.5zM136.11 300.35h2.5v2.5h-2.5zM137.00 299.05h2.5v2.5h-2.5zM137.89 299.05h2.5v2.5h-2.5zM138.77 299.05h2.5v2.5h-2.5zM139.66 297.75h2.5v2.5h-2.5zM140.55 297.75h2.5v2.5h-2.5zM141.44 297.75h2.5v2.5h-2.5zM142.32 296.45h2.5v2.5h-2.5zM143.21 296.45h2.5v2.5h-2.5zM144.10 296.45h2.5v2.5h-2.5zM144.99 295.15h2.5v2.5h-2.5zM145.88 295.15h2.5v2.5h-2.5zM146.76 293.85h2.5v2.5h-2.5zM147.65 293.85h2.5v2.5h-2.5zM148.54 293.85h2.5v2.5h-2.5zM149.43 292.55h2.5v2.5h-2.5zM150.31 292.55h2.5v2.5h-2.5zM151.20 292.55h2.5v2.5h-2.5zM152.09 291.25h2.5v2.5h-2.5zM152.97 291.25h2.5v2.5h-2.5zM153.86 291.25h2.5v2.5h-2.5zM154.75 289.95h2.5v2.5h-2.5zM155.64 289.95h2.5v2.5h-2.5zM156.52 289.95h2.5v2.5h-2.5zM157.41 288.65h2.5v2.5h-2.5zM158.30 288.65h2.5v2.5h-2.5zM159.19 288.65h2.5v2.5h-2.5zM160.07 288.65h2.5v2.5h-2.5zM160.96 287.35h2.5v2.5h-2.5zM161.85 287.35h2.5v2.5h-2.5zM162.74 287.35h2.5v2.5h-2.5zM163.62 286.05h2.5v2.5h-2.5zM164.51 286.05h2.5v2.5h-2.5zM165.40 286.05h2.5v2.5h-2.5zM166.29 284.75h2.5v2.5h-2.5zM167.18 284.75h2.5v2.5h-2.5zM168.06 284.75h2.5v2.5h-2.5zM168.95 283.45h2.5v2.5h-2.5zM169.84 283.45h2.5v2.5h-2.5zM170.72 283.45h2.5v2.5h-2.5zM171.61 282.15h2.5v2.5h-2.5zM172.50 282.15h2.5v2.5h-2.5zM173.39 282.15h2.5v2.5h-2.5zM174.27 282.15h2.5v2.5h-2.5zM175.16 280.85h2.5v2.5h-2.5zM176.05 280.85h2.5v2.5h-2.5zM176.94 280.85h2.5v2.5h-2.5zM177.82 279.55h2.5v2.5h-2.5zM178.71 279.55h2.5v2.5h-2.5zM179.60 279.55h2.5v2.5h-2.5zM180.49 279.55h2.5v2.5h-2.5zM181.38 278.25h2.5v2.5h-2.5zM182.26 278.25h2.5v2.5h-2.5zM183.15 278.25h2.5v2.5h-2.5zM184.04 278.25h2.5v2.5h-2.5zM184.92 276.95h2.5v2.5h-2.5zM185.81 276.95h2.5v2.5h-2.5zM186.70 276.95h2.5v2.5h-2.5zM187.59 275.65h2.5v2.5h-2.5zM188.47 275.65h2.5v2.5h-2.5zM189.36 275.65h2.5v2.5h-2.5zM190.25 275.65h2.5v2.5h-2.5zM191.14 274.35h2.5v2.5h-2.5zM192.03 274.35h2.5v2.5h-2.5zM192.91 274.35h2.5v2.5h-2.5zM193.80 274.35h2.5v2.5h-2.5zM194.69 273.05h2.5v2.5h-2.5zM195.57 273.05h2.5v2.5h-2.5zM196.46 273.05h2.5v2.5h-2.5zM197.35 271.75h2.5v2.5h-2.5zM198.24 271.75h2.5v2.5h-2.5zM199.12 270.45h2.5v2.5h-2.5zM200.01 270.45h2.5v2.5h-2.5zM200.90 269.15h2.5v2.5h-2.5zM201.79 269.15h2.5v2.5h-2.5zM202.67 267.85h2.5v2.5h-2.5zM203.56 267.85h2.5v2.5h-2.5zM204.45 267.85h2.5v2.5h-2.5zM205.34 266.55h2.5v2.5h-2.5zM206.22 266.55h2.5v2.5h-2.5zM207.11 265.25h2.5v2.5h-2.5zM208.00 265.25h2.5v2.5h-2.5zM208.89 263.95h2.5v2.5h-2.5zM209.78 263.95h2.5v2.5h-2.5zM210.66 262.65h2.5v2.5h-2.5zM211.55 262.65h2.5v2.5h-2.5zM212.44 261.35h2.5v2.5h-2.5zM213.32 261.35h2.5v2.5h-2.5zM214.21 260.05h2.5v2.5h-2.5zM215.10 260.05h2.5v2.5h-2.5zM215.99 258.75h2.5v2.5h-2.5zM216.88 258.75h2.5v2.5h-2.5zM217.76 257.45h2.5v2.5h-2.5zM218.65 257.45h2.5v2.5h-2.5zM219.54 256.15h2.5v2.5h-2.5zM220.42 254.85h2.5v2.5h-2.5zM221.31 254.85h2.5v2.5h-2.5zM222.20 253.55h2.5v2.5h-2.5zM223.09 252.25h2.5v2.5h-2.5zM223.97 250.95h2.5v2.5h-2.5zM224.86 249.65h2.5v2.5h-2.5zM225.75 248.35h2.5v2.5h-2.5zM226.64 247.05h2.5v2.5h-2.5zM227.52 245.75h2.5v2.5h-2.5zM228.41 244.45h2.5v2.5h-2.5zM229.30 243.15h2.5v2.5h-2.5zM230.19 241.85h2.5v2.5h-2.5zM231.07 239.25h2.5v2.5h-2.5zM231.96 237.95h2.5v2.5h-2.5z" fill="#727272"/>
<path d="M49.10 348.00h0.8v0.8h-0.8zM49.99 348.00h0.8v0.8h-0.8zM50.88 346.70h0.8v0.8h-0.8zM51.76 346.70h0.8v0.8h-0.8zM52.65 346.70h0.8v0.8h-0.8zM53.54 346.70h0.8v0.8h-0.8zM54.43 345.40h0.8v0.8h-0.8zM55.31 345.40h0.8v0.8h-0.8zM56.20 345.40h0.8v0.8h-0.8zM57.09 345.40h0.8v0.8h-0.8zM57.98 344.10h0.8v0.8h-0.8zM58.86 344.10h0.8v0.8h-0.8zM59.75 344.10h0.8v0.8h-0.8zM60.64 344.10h0.8v0.8h-0.8zM61.52 342.80h0.8v0.8h-0.8zM62.41 342.80h0.8v0.8h-0.8zM63.30 342.80h0.8v0.8h-0.8zM64.19 341.50h0.8v0.8h-0.8zM65.07 341.50h0.8v0.8h-0.8zM65.96 340.20h0.8v0.8h-0.8zM66.85 340.20h0.8v0.8h-0.8zM67.74 338.90h0.8v0.8h-0.8zM68.62 337.60h0.8v0.8h-0.8zM69.51 336.30h0.8v0.8h-0.8zM70.40 335.00h0.8v0.8h-0.8zM71.29 335.00h0.8v0.8h-0.8zM72.17 333.70h0.8v0.8h-0.8zM73.06 333.70h0.8v0.8h-0.8zM73.95 333.70h0.8v0.8h-0.8zM74.84 332.40h0.8v0.8h-0.8zM75.72 332.40h0.8v0.8h-0.8zM76.61 332.40h0.8v0.8h-0.8zM77.50 332.40h0.8v0.8h-0.8zM78.39 331.10h0.8v0.8h-0.8zM79.27 331.10h0.8v0.8h-0.8zM80.16 329.80h0.8v0.8h-0.8zM81.05 329.80h0.8v0.8h-0.8zM81.94 328.50h0.8v0.8h-0.8zM82.82 328.50h0.8v0.8h-0.8zM83.71 328.50h0.8v0.8h-0.8zM84.60 327.20h0.8v0.8h-0.8zM85.49 327.20h0.8v0.8h-0.8zM86.38 325.90h0.8v0.8h-0.8zM87.26 325.90h0.8v0.8h-0.8zM88.15 325.90h0.8v0.8h-0.8zM89.04 325.90h0.8v0.8h-0.8zM89.92 325.90h0.8v0.8h-0.8zM90.81 325.90h0.8v0.8h-0.8zM91.70 324.60h0.8v0.8h-0.8zM92.59 324.60h0.8v0.8h-0.8zM93.47 324.60h0.8v0.8h-0.8zM94.36 324.60h0.8v0.8h-0.8zM95.25 324.60h0.8v0.8h-0.8zM96.14 324.60h0.8v0.8h-0.8zM97.02 323.30h0.8v0.8h-0.8zM97.91 323.30h0.8v0.8h-0.8zM98.80 322.00h0.8v0.8h-0.8zM99.69 322.00h0.8v0.8h-0.8zM100.57 322.00h0.8v0.8h-0.8zM101.46 320.70h0.8v0.8h-0.8zM102.35 320.70h0.8v0.8h-0.8zM103.24 319.40h0.8v0.8h-0.8zM104.12 319.40h0.8v0.8h-0.8zM105.01 318.10h0.8v0.8h-0.8zM105.90 318.10h0.8v0.8h-0.8zM106.79 316.80h0.8v0.8h-0.8zM107.67 316.80h0.8v0.8h-0.8zM108.56 315.50h0.8v0.8h-0.8zM109.45 314.20h0.8v0.8h-0.8zM110.34 314.20h0.8v0.8h-0.8zM111.22 314.20h0.8v0.8h-0.8zM112.11 312.90h0.8v0.8h-0.8zM113.00 312.90h0.8v0.8h-0.8zM113.89 312.90h0.8v0.8h-0.8zM114.77 311.60h0.8v0.8h-0.8zM115.66 311.60h0.8v0.8h-0.8zM116.55 311.60h0.8v0.8h-0.8zM117.44 311.60h0.8v0.8h-0.8zM118.32 310.30h0.8v0.8h-0.8zM119.21 310.30h0.8v0.8h-0.8zM120.10 309.00h0.8v0.8h-0.8zM120.99 309.00h0.8v0.8h-0.8zM121.87 307.70h0.8v0.8h-0.8zM122.76 307.70h0.8v0.8h-0.8zM123.65 306.40h0.8v0.8h-0.8zM124.54 306.40h0.8v0.8h-0.8zM125.42 305.10h0.8v0.8h-0.8zM126.31 305.10h0.8v0.8h-0.8zM127.20 305.10h0.8v0.8h-0.8zM128.09 303.80h0.8v0.8h-0.8zM128.97 303.80h0.8v0.8h-0.8zM129.86 303.80h0.8v0.8h-0.8zM130.75 303.80h0.8v0.8h-0.8zM131.64 303.80h0.8v0.8h-0.8zM132.53 303.80h0.8v0.8h-0.8zM133.41 302.50h0.8v0.8h-0.8zM134.30 302.50h0.8v0.8h-0.8zM135.19 301.20h0.8v0.8h-0.8zM136.07 301.20h0.8v0.8h-0.8zM136.96 301.20h0.8v0.8h-0.8zM137.85 299.90h0.8v0.8h-0.8zM138.74 299.90h0.8v0.8h-0.8zM139.62 299.90h0.8v0.8h-0.8zM140.51 298.60h0.8v0.8h-0.8zM141.40 298.60h0.8v0.8h-0.8zM142.29 298.60h0.8v0.8h-0.8zM143.17 297.30h0.8v0.8h-0.8zM144.06 297.30h0.8v0.8h-0.8zM144.95 297.30h0.8v0.8h-0.8zM145.84 296.00h0.8v0.8h-0.8zM146.72 296.00h0.8v0.8h-0.8zM147.61 294.70h0.8v0.8h-0.8zM148.50 294.70h0.8v0.8h-0.8zM149.39 294.70h0.8v0.8h-0.8zM150.28 293.40h0.8v0.8h-0.8zM151.16 293.40h0.8v0.8h-0.8zM152.05 293.40h0.8v0.8h-0.8zM152.94 292.10h0.8v0.8h-0.8zM153.82 292.10h0.8v0.8h-0.8zM154.71 292.10h0.8v0.8h-0.8zM155.60 290.80h0.8v0.8h-0.8zM156.49 290.80h0.8v0.8h-0.8zM157.37 290.80h0.8v0.8h-0.8zM158.26 289.50h0.8v0.8h-0.8zM159.15 289.50h0.8v0.8h-0.8zM160.04 289.50h0.8v0.8h-0.8zM160.92 289.50h0.8v0.8h-0.8zM161.81 288.20h0.8v0.8h-0.8zM162.70 288.20h0.8v0.8h-0.8zM163.59 288.20h0.8v0.8h-0.8zM164.47 286.90h0.8v0.8h-0.8zM165.36 286.90h0.8v0.8h-0.8zM166.25 286.90h0.8v0.8h-0.8zM167.14 285.60h0.8v0.8h-0.8zM168.03 285.60h0.8v0.8h-0.8zM168.91 285.60h0.8v0.8h-0.8zM169.80 284.30h0.8v0.8h-0.8zM170.69 284.30h0.8v0.8h-0.8zM171.57 284.30h0.8v0.8h-0.8zM172.46 283.00h0.8v0.8h-0.8zM173.35 283.00h0.8v0.8h-0.8zM174.24 283.00h0.8v0.8h-0.8zM175.12 283.00h0.8v0.8h-0.8zM176.01 281.70h0.8v0.8h-0.8zM176.90 281.70h0.8v0.8h-0.8zM177.79 281.70h0.8v0.8h-0.8zM178.67 280.40h0.8v0.8h-0.8zM179.56 280.40h0.8v0.8h-0.8zM180.45 280.40h0.8v0.8h-0.8zM181.34 280.40h0.8v0.8h-0.8zM182.22 279.10h0.8v0.8h-0.8zM183.11 279.10h0.8v0.8h-0.8zM184.00 279.10h0.8v0.8h-0.8zM184.89 279.10h0.8v0.8h-0.8zM185.77 277.80h0.8v0.8h-0.8zM186.66 277.80h0.8v0.8h-0.8zM187.55 277.80h0.8v0.8h-0.8zM188.44 276.50h0.8v0.8h-0.8zM189.32 276.50h0.8v0.8h-0.8zM190.21 276.50h0.8v0.8h-0.8zM191.10 276.50h0.8v0.8h-0.8zM191.99 275.20h0.8v0.8h-0.8zM192.88 275.20h0.8v0.8h-0.8zM193.76 275.20h0.8v0.8h-0.8zM194.65 275.20h0.8v0.8h-0.8zM195.54 273.90h0.8v0.8h-0.8zM196.42 273.90h0.8v0.8h-0.8zM197.31 273.90h0.8v0.8h-0.8zM198.20 272.60h0.8v0.8h-0.8zM199.09 272.60h0.8v0.8h-0.8zM199.97 271.30h0.8v0.8h-0.8zM200.86 271.30h0.8v0.8h-0.8zM201.75 270.00h0.8v0.8h-0.8zM202.64 270.00h0.8v0.8h-0.8zM203.52 268.70h0.8v0.8h-0.8zM204.41 268.70h0.8v0.8h-0.8zM205.30 268.70h0.8v0.8h-0.8zM206.19 267.40h0.8v0.8h-0.8zM207.07 267.40h0.8v0.8h-0.8zM207.96 266.10h0.8v0.8h-0.8zM208.85 266.10h0.8v0.8h-0.8zM209.74 264.80h0.8v0.8h-0.8zM210.62 264.80h0.8v0.8h-0.8zM211.51 263.50h0.8v0.8h-0.8zM212.40 263.50h0.8v0.8h-0.8zM213.29 262.20h0.8v0.8h-0.8zM214.17 262.20h0.8v0.8h-0.8zM215.06 260.90h0.8v0.8h-0.8zM215.95 260.90h0.8v0.8h-0.8zM216.84 259.60h0.8v0.8h-0.8zM217.72 259.60h0.8v0.8h-0.8zM218.61 258.30h0.8v0.8h-0.8zM219.50 258.30h0.8v0.8h-0.8zM220.39 257.00h0.8v0.8h-0.8zM221.27 255.70h0.8v0.8h-0.8zM222.16 255.70h0.8v0.8h-0.8zM223.05 254.40h0.8v0.8h-0.8zM223.94 253.10h0.8v0.8h-0.8zM224.82 251.80h0.8v0.8h-0.8zM225.71 250.50h0.8v0.8h-0.8zM226.60 249.20h0.8v0.8h-0.8zM227.49 247.90h0.8v0.8h-0.8zM228.37 246.60h0.8v0.8h-0.8zM229.26 245.30h0.8v0.8h-0.8zM230.15 244.00h0.8v0.8h-0.8zM231.04 242.70h0.8v0.8h-0.8zM231.92 240.10h0.8v0.8h-0.8zM232.81 238.80h0.8v0.8h-0.8z" fill="#989898"/>
<path d="M48.35 347.15h2.3v2.3h-2.3zM49.24 346.99h2.3v2.3h-2.3zM50.12 346.83h2.3v2.3h-2.3zM51.01 346.67h2.3v2.3h-2.3zM51.90 346.51h2.3v2.3h-2.3zM52.79 346.35h2.3v2.3h-2.3zM53.68 346.18h2.3v2.3h-2.3zM54.56 346.02h2.3v2.3h-2.3zM55.45 345.86h2.3v2.3h-2.3zM56.34 345.70h2.3v2.3h-2.3zM57.23 345.54h2.3v2.3h-2.3zM58.11 345.38h2.3v2.3h-2.3zM59.00 345.22h2.3v2.3h-2.3zM59.89 345.06h2.3v2.3h-2.3zM60.77 344.90h2.3v2.3h-2.3zM61.66 344.74h2.3v2.3h-2.3zM62.55 344.57h2.3v2.3h-2.3zM63.44 344.41h2.3v2.3h-2.3zM64.32 344.25h2.3v2.3h-2.3zM65.21 344.09h2.3v2.3h-2.3zM66.10 343.93h2.3v2.3h-2.3zM66.99 343.77h2.3v2.3h-2.3zM67.88 343.61h2.3v2.3h-2.3zM68.76 343.45h2.3v2.3h-2.3zM69.65 343.29h2.3v2.3h-2.3zM70.54 343.12h2.3v2.3h-2.3zM71.42 342.96h2.3v2.3h-2.3zM72.31 342.79h2.3v2.3h-2.3zM73.20 342.63h2.3v2.3h-2.3zM74.09 342.46h2.3v2.3h-2.3zM74.97 342.30h2.3v2.3h-2.3zM75.86 342.14h2.3v2.3h-2.3zM76.75 341.97h2.3v2.3h-2.3zM77.64 341.81h2.3v2.3h-2.3zM78.52 341.64h2.3v2.3h-2.3zM79.41 341.48h2.3v2.3h-2.3zM80.30 341.31h2.3v2.3h-2.3zM81.19 341.15h2.3v2.3h-2.3zM82.07 340.98h2.3v2.3h-2.3zM82.96 340.82h2.3v2.3h-2.3zM83.85 340.66h2.3v2.3h-2.3zM84.74 340.49h2.3v2.3h-2.3zM85.62 340.33h2.3v2.3h-2.3zM86.51 340.16h2.3v2.3h-2.3zM87.40 340.00h2.3v2.3h-2.3zM88.29 339.83h2.3v2.3h-2.3zM89.17 339.67h2.3v2.3h-2.3zM90.06 339.50h2.3v2.3h-2.3zM90.95 339.34h2.3v2.3h-2.3zM91.84 339.18h2.3v2.3h-2.3zM92.72 339.01h2.3v2.3h-2.3zM93.61 338.85h2.3v2.3h-2.3zM94.50 338.68h2.3v2.3h-2.3zM95.39 338.52h2.3v2.3h-2.3zM96.27 338.39h2.3v2.3h-2.3zM97.16 338.28h2.3v2.3h-2.3zM98.05 338.17h2.3v2.3h-2.3zM98.94 338.06h2.3v2.3h-2.3zM99.82 337.96h2.3v2.3h-2.3zM100.71 337.85h2.3v2.3h-2.3zM101.60 337.74h2.3v2.3h-2.3zM102.49 337.63h2.3v2.3h-2.3zM103.38 337.52h2.3v2.3h-2.3zM104.26 337.42h2.3v2.3h-2.3zM105.15 337.31h2.3v2.3h-2.3zM106.04 337.20h2.3v2.3h-2.3zM106.92 337.09h2.3v2.3h-2.3zM107.81 336.99h2.3v2.3h-2.3zM108.70 336.88h2.3v2.3h-2.3zM109.59 336.77h2.3v2.3h-2.3zM110.47 336.66h2.3v2.3h-2.3zM111.36 336.55h2.3v2.3h-2.3zM112.25 336.45h2.3v2.3h-2.3zM113.14 336.34h2.3v2.3h-2.3zM114.02 336.21h2.3v2.3h-2.3zM114.91 336.09h2.3v2.3h-2.3zM115.80 335.97h2.3v2.3h-2.3zM116.69 335.84h2.3v2.3h-2.3zM117.57 335.72h2.3v2.3h-2.3zM118.46 335.60h2.3v2.3h-2.3zM119.35 335.48h2.3v2.3h-2.3zM120.24 335.35h2.3v2.3h-2.3zM121.12 335.23h2.3v2.3h-2.3zM122.01 335.11h2.3v2.3h-2.3zM122.90 334.98h2.3v2.3h-2.3zM123.79 334.86h2.3v2.3h-2.3zM124.67 334.69h2.3v2.3h-2.3zM125.56 334.52h2.3v2.3h-2.3zM126.45 334.35h2.3v2.3h-2.3zM127.34 334.18h2.3v2.3h-2.3zM128.22 334.01h2.3v2.3h-2.3zM129.11 333.84h2.3v2.3h-2.3zM130.00 333.67h2.3v2.3h-2.3zM130.89 333.50h2.3v2.3h-2.3zM131.78 333.33h2.3v2.3h-2.3zM132.66 333.16h2.3v2.3h-2.3zM133.55 332.99h2.3v2.3h-2.3zM134.44 332.82h2.3v2.3h-2.3zM135.32 332.65h2.3v2.3h-2.3zM136.21 332.46h2.3v2.3h-2.3zM137.10 332.25h2.3v2.3h-2.3zM137.99 332.03h2.3v2.3h-2.3zM138.87 331.82h2.3v2.3h-2.3zM139.76 331.60h2.3v2.3h-2.3zM140.65 331.39h2.3v2.3h-2.3zM141.54 331.18h2.3v2.3h-2.3zM142.42 330.96h2.3v2.3h-2.3zM143.31 330.75h2.3v2.3h-2.3zM144.20 330.53h2.3v2.3h-2.3zM145.09 330.32h2.3v2.3h-2.3zM145.97 330.10h2.3v2.3h-2.3zM146.86 329.89h2.3v2.3h-2.3zM147.75 329.67h2.3v2.3h-2.3zM148.64 329.41h2.3v2.3h-2.3zM149.53 329.15h2.3v2.3h-2.3zM150.41 328.88h2.3v2.3h-2.3zM151.30 328.62h2.3v2.3h-2.3zM152.19 328.35h2.3v2.3h-2.3zM153.07 328.08h2.3v2.3h-2.3zM153.96 327.82h2.3v2.3h-2.3zM154.85 327.55h2.3v2.3h-2.3zM155.74 327.28h2.3v2.3h-2.3zM156.62 327.02h2.3v2.3h-2.3zM157.51 326.75h2.3v2.3h-2.3zM158.40 326.49h2.3v2.3h-2.3zM159.29 326.22h2.3v2.3h-2.3zM160.17 325.94h2.3v2.3h-2.3zM161.06 325.63h2.3v2.3h-2.3zM161.95 325.31h2.3v2.3h-2.3zM162.84 325.00h2.3v2.3h-2.3zM163.72 324.69h2.3v2.3h-2.3zM164.61 324.38h2.3v2.3h-2.3zM165.50 324.07h2.3v2.3h-2.3zM166.39 323.76h2.3v2.3h-2.3zM167.28 323.45h2.3v2.3h-2.3zM168.16 323.14h2.3v2.3h-2.3zM169.05 322.83h2.3v2.3h-2.3zM169.94 322.52h2.3v2.3h-2.3zM170.82 322.21h2.3v2.3h-2.3zM171.71 321.90h2.3v2.3h-2.3zM172.60 321.68h2.3v2.3h-2.3zM173.49 321.48h2.3v2.3h-2.3zM174.37 321.28h2.3v2.3h-2.3zM175.26 321.08h2.3v2.3h-2.3zM176.15 320.89h2.3v2.3h-2.3zM177.04 320.69h2.3v2.3h-2.3zM177.92 320.49h2.3v2.3h-2.3zM178.81 320.29h2.3v2.3h-2.3zM179.70 320.09h2.3v2.3h-2.3zM180.59 319.89h2.3v2.3h-2.3zM181.47 319.69h2.3v2.3h-2.3zM182.36 319.49h2.3v2.3h-2.3z" fill="#000"/>
<rect x="183.70" y="317.10" width="5.70" height="2.2" fill="#000"/>
<rect x="189.20" y="314.50" width="5.50" height="2.2" fill="#000"/>
<rect x="194.20" y="311.80" width="3.80" height="2.2" fill="#000"/>
<rect x="197.60" y="308.90" width="3.80" height="2.2" fill="#000"/>
<rect x="200.80" y="306.00" width="4.50" height="2.2" fill="#000"/>
<rect x="204.80" y="302.90" width="3.90" height="2.2" fill="#000"/>
<rect x="208.20" y="300.10" width="4.80" height="2.2" fill="#000"/>
<rect x="213.00" y="297.40" width="4.30" height="2.2" fill="#000"/>
<rect x="217.30" y="294.70" width="4.80" height="2.2" fill="#000"/>
<rect x="221.60" y="291.70" width="3.40" height="2.2" fill="#000"/>
<rect x="224.50" y="288.80" width="3.00" height="2.2" fill="#000"/>
<rect x="227.20" y="285.60" width="2.40" height="2.2" fill="#000"/>
<rect x="228.20" y="283.20" width="2.60" height="2.2" fill="#000"/>
<rect x="230.10" y="280.70" width="3.60" height="2.2" fill="#000"/>
<rect x="232.50" y="275.10" width="2.20" height="2.2" fill="#000"/>
<rect x="233.40" y="273.00" width="2.20" height="2.2" fill="#000"/>
<rect x="234.20" y="271.00" width="2.20" height="2.2" fill="#000"/>
<rect x="235.20" y="268.70" width="2.20" height="2.2" fill="#000"/>
<rect x="236.20" y="266.40" width="2.20" height="2.2" fill="#000"/>
<rect x="237.30" y="263.80" width="3.00" height="2.2" fill="#000"/>
<rect x="239.30" y="258.20" width="2.00" height="2.2" fill="#000"/>
<rect x="240.40" y="246.60" width="2.60" height="2.2" fill="#000"/>
<rect x="242.20" y="241.40" width="3.20" height="2.2" fill="#000"/>
<line x1="48.00" y1="427.00" x2="48.00" y2="535.60" stroke="#1a1a1a" stroke-width="1.05"/>
<line x1="47.40" y1="535.00" x2="249.00" y2="535.00" stroke="#000" stroke-width="1.1"/>
<line x1="46.20" y1="427.40" x2="48.00" y2="427.40" stroke="#000" stroke-width="1.0"/>
<line x1="46.20" y1="480.60" x2="48.00" y2="480.60" stroke="#000" stroke-width="1.0"/>
<line x1="46.20" y1="533.40" x2="48.00" y2="533.40" stroke="#000" stroke-width="1.0"/>
<line x1="92.38" y1="535.00" x2="92.38" y2="537.40" stroke="#000" stroke-width="1.0"/>
<line x1="136.75" y1="535.00" x2="136.75" y2="537.40" stroke="#000" stroke-width="1.0"/>
<line x1="181.12" y1="535.00" x2="181.12" y2="537.40" stroke="#000" stroke-width="1.0"/>
<line x1="225.50" y1="535.00" x2="225.50" y2="537.40" stroke="#000" stroke-width="1.0"/>
<path d="M28.70 420.70V434.40H26.18V423.65C24.79 424.40 23.16 424.81 22.40 424.81V422.89C24.16 422.82 25.80 422.07 26.81 420.70Z" fill="#000"/>
<text transform="translate(31.08,434.28) scale(1.2035,1)" font-size="19.58" font-weight="normal" stroke-width="0.5">0</text>
<text transform="translate(30.88,488.38) scale(1.2014,1)" font-size="19.71" font-weight="normal" stroke-width="0.5">5</text>
<text transform="translate(30.92,540.98) scale(1.1524,1)" font-size="19.72" font-weight="normal" stroke-width="0.5">0</text>
<text transform="translate(41.15,553.38) scale(1.2286,1)" font-size="19.86" font-weight="normal" stroke-width="0.5">0</text>
<path d="M124.50 539.50V553.30H122.06V542.47C120.72 543.23 119.13 543.64 118.40 543.64V541.71C120.11 541.64 121.69 540.88 122.67 539.50Z" fill="#000"/>
<text transform="translate(126.62,553.18) scale(1.1418,1)" font-size="19.72" font-weight="normal" stroke-width="0.5">0</text>
<text transform="translate(139.78,553.18) scale(1.1949,1)" font-size="19.72" font-weight="normal" stroke-width="0.5">0</text>
<text transform="translate(207.72,553.38) scale(1.1060,1)" font-size="20.00" font-weight="normal" stroke-width="0.5">200</text>
<text transform="translate(130.32,580.87) scale(1.0609,1)" font-size="20.75" font-weight="normal" stroke-width="0.5">Cells</text>
<text transform="translate(19.34,510.14) rotate(-90) scale(1.0455,1)" font-size="20.39" stroke-width="0.5">Copy</text>
<text transform="translate(193.47,440.48) scale(1.0422,1)" font-size="20.73" font-weight="normal" stroke-width="0.5">AB</text>
<text transform="translate(219.72,483.16) scale(1.0185,1)" font-size="21.70" font-weight="normal" stroke-width="0.5">CB</text>
<text transform="translate(60.13,442.07) scale(1.0878,1)" font-size="20.34" font-weight="normal" stroke-width="0.5">Total</text>
<path d="M46.80 530.80h2.4v2.4h-2.4zM47.69 529.99h2.4v2.4h-2.4zM48.57 529.18h2.4v2.4h-2.4zM49.46 528.37h2.4v2.4h-2.4zM50.35 527.56h2.4v2.4h-2.4zM51.24 526.75h2.4v2.4h-2.4zM52.12 525.94h2.4v2.4h-2.4zM53.01 525.29h2.4v2.4h-2.4zM53.90 524.75h2.4v2.4h-2.4zM54.79 524.22h2.4v2.4h-2.4zM55.67 523.68h2.4v2.4h-2.4zM56.56 523.14h2.4v2.4h-2.4zM57.45 522.61h2.4v2.4h-2.4zM58.34 522.07h2.4v2.4h-2.4zM59.22 521.53h2.4v2.4h-2.4zM60.11 521.00h2.4v2.4h-2.4zM61.00 520.46h2.4v2.4h-2.4zM61.89 519.79h2.4v2.4h-2.4zM62.77 519.11h2.4v2.4h-2.4zM63.66 518.43h2.4v2.4h-2.4zM64.55 517.75h2.4v2.4h-2.4zM65.44 517.06h2.4v2.4h-2.4zM66.33 516.39h2.4v2.4h-2.4zM67.21 516.05h2.4v2.4h-2.4zM68.10 515.72h2.4v2.4h-2.4zM68.99 515.38h2.4v2.4h-2.4zM69.88 515.04h2.4v2.4h-2.4zM70.76 514.70h2.4v2.4h-2.4zM71.65 514.37h2.4v2.4h-2.4zM72.54 514.03h2.4v2.4h-2.4zM73.42 513.69h2.4v2.4h-2.4zM74.31 513.35h2.4v2.4h-2.4zM75.20 513.02h2.4v2.4h-2.4zM76.09 512.68h2.4v2.4h-2.4zM76.97 512.34h2.4v2.4h-2.4zM77.86 512.00h2.4v2.4h-2.4zM78.75 511.71h2.4v2.4h-2.4zM79.64 511.47h2.4v2.4h-2.4zM80.52 511.24h2.4v2.4h-2.4zM81.41 511.00h2.4v2.4h-2.4zM82.30 510.77h2.4v2.4h-2.4zM83.19 510.53h2.4v2.4h-2.4zM84.08 510.30h2.4v2.4h-2.4zM84.96 510.07h2.4v2.4h-2.4zM85.85 509.83h2.4v2.4h-2.4zM86.74 509.60h2.4v2.4h-2.4zM87.62 509.27h2.4v2.4h-2.4zM88.51 508.88h2.4v2.4h-2.4zM89.40 508.48h2.4v2.4h-2.4zM90.29 508.09h2.4v2.4h-2.4zM91.17 507.70h2.4v2.4h-2.4zM92.06 507.31h2.4v2.4h-2.4zM92.95 506.92h2.4v2.4h-2.4zM93.84 506.52h2.4v2.4h-2.4zM94.72 506.13h2.4v2.4h-2.4zM95.61 505.74h2.4v2.4h-2.4zM96.50 505.46h2.4v2.4h-2.4zM97.39 505.20h2.4v2.4h-2.4zM98.27 504.93h2.4v2.4h-2.4zM99.16 504.67h2.4v2.4h-2.4zM100.05 504.40h2.4v2.4h-2.4zM100.94 504.13h2.4v2.4h-2.4zM101.83 503.87h2.4v2.4h-2.4zM102.71 503.60h2.4v2.4h-2.4zM103.60 503.34h2.4v2.4h-2.4zM104.49 503.07h2.4v2.4h-2.4zM105.37 502.81h2.4v2.4h-2.4zM106.26 502.54h2.4v2.4h-2.4zM107.15 502.27h2.4v2.4h-2.4zM108.04 502.00h2.4v2.4h-2.4zM108.92 501.73h2.4v2.4h-2.4zM109.81 501.46h2.4v2.4h-2.4zM110.70 501.20h2.4v2.4h-2.4zM111.59 500.93h2.4v2.4h-2.4zM112.47 500.66h2.4v2.4h-2.4zM113.36 500.39h2.4v2.4h-2.4zM114.25 500.13h2.4v2.4h-2.4zM115.14 499.86h2.4v2.4h-2.4zM116.02 499.60h2.4v2.4h-2.4zM116.91 499.33h2.4v2.4h-2.4zM117.80 499.07h2.4v2.4h-2.4zM118.69 498.80h2.4v2.4h-2.4zM119.57 498.54h2.4v2.4h-2.4zM120.46 498.27h2.4v2.4h-2.4zM121.35 498.00h2.4v2.4h-2.4zM122.24 497.69h2.4v2.4h-2.4zM123.12 497.34h2.4v2.4h-2.4zM124.01 496.99h2.4v2.4h-2.4zM124.90 496.63h2.4v2.4h-2.4zM125.79 496.28h2.4v2.4h-2.4zM126.67 495.93h2.4v2.4h-2.4zM127.56 495.58h2.4v2.4h-2.4zM128.45 495.23h2.4v2.4h-2.4zM129.34 494.88h2.4v2.4h-2.4zM130.23 494.53h2.4v2.4h-2.4zM131.11 494.29h2.4v2.4h-2.4zM132.00 494.07h2.4v2.4h-2.4zM132.89 493.84h2.4v2.4h-2.4zM133.78 493.62h2.4v2.4h-2.4zM134.66 493.39h2.4v2.4h-2.4zM135.55 493.16h2.4v2.4h-2.4zM136.44 492.95h2.4v2.4h-2.4zM137.32 492.73h2.4v2.4h-2.4zM138.21 492.52h2.4v2.4h-2.4zM139.10 492.30h2.4v2.4h-2.4zM139.99 492.09h2.4v2.4h-2.4zM140.88 491.87h2.4v2.4h-2.4zM141.76 491.66h2.4v2.4h-2.4zM142.65 491.44h2.4v2.4h-2.4zM143.54 491.23h2.4v2.4h-2.4zM144.43 491.02h2.4v2.4h-2.4zM145.31 490.80h2.4v2.4h-2.4zM146.20 490.59h2.4v2.4h-2.4zM147.09 490.37h2.4v2.4h-2.4zM147.98 490.14h2.4v2.4h-2.4zM148.86 489.82h2.4v2.4h-2.4zM149.75 489.50h2.4v2.4h-2.4zM150.64 489.18h2.4v2.4h-2.4zM151.53 488.87h2.4v2.4h-2.4zM152.41 488.55h2.4v2.4h-2.4zM153.30 488.23h2.4v2.4h-2.4zM154.19 487.91h2.4v2.4h-2.4zM155.07 487.59h2.4v2.4h-2.4zM155.96 487.28h2.4v2.4h-2.4zM156.85 486.96h2.4v2.4h-2.4zM157.74 486.64h2.4v2.4h-2.4zM158.62 486.32h2.4v2.4h-2.4zM159.51 486.00h2.4v2.4h-2.4zM160.40 485.66h2.4v2.4h-2.4zM161.29 485.31h2.4v2.4h-2.4zM162.18 484.95h2.4v2.4h-2.4zM163.06 484.60h2.4v2.4h-2.4zM163.95 484.24h2.4v2.4h-2.4zM164.84 483.89h2.4v2.4h-2.4zM165.73 483.53h2.4v2.4h-2.4zM166.61 483.18h2.4v2.4h-2.4zM167.50 482.82h2.4v2.4h-2.4zM168.39 482.47h2.4v2.4h-2.4zM169.28 482.11h2.4v2.4h-2.4zM170.16 481.75h2.4v2.4h-2.4zM171.05 481.40h2.4v2.4h-2.4zM171.94 481.06h2.4v2.4h-2.4zM172.82 480.79h2.4v2.4h-2.4zM173.71 480.53h2.4v2.4h-2.4zM174.60 480.26h2.4v2.4h-2.4zM175.49 479.99h2.4v2.4h-2.4zM176.38 479.73h2.4v2.4h-2.4zM177.26 479.46h2.4v2.4h-2.4zM178.15 479.19h2.4v2.4h-2.4zM179.04 478.93h2.4v2.4h-2.4zM179.93 478.66h2.4v2.4h-2.4zM180.81 478.40h2.4v2.4h-2.4zM181.70 478.13h2.4v2.4h-2.4zM182.59 477.86h2.4v2.4h-2.4zM183.47 477.60h2.4v2.4h-2.4zM184.36 477.33h2.4v2.4h-2.4zM185.25 477.06h2.4v2.4h-2.4zM186.14 476.80h2.4v2.4h-2.4zM187.03 476.53h2.4v2.4h-2.4zM187.91 476.27h2.4v2.4h-2.4zM188.80 476.00h2.4v2.4h-2.4zM189.69 475.73h2.4v2.4h-2.4zM190.58 475.47h2.4v2.4h-2.4zM191.46 475.20h2.4v2.4h-2.4zM192.35 474.94h2.4v2.4h-2.4zM193.24 474.67h2.4v2.4h-2.4zM194.12 474.40h2.4v2.4h-2.4zM195.01 474.14h2.4v2.4h-2.4zM195.90 473.87h2.4v2.4h-2.4zM196.79 473.55h2.4v2.4h-2.4zM197.68 473.24h2.4v2.4h-2.4zM198.56 472.93h2.4v2.4h-2.4zM199.45 472.62h2.4v2.4h-2.4zM200.34 472.31h2.4v2.4h-2.4zM201.22 472.00h2.4v2.4h-2.4zM202.11 471.69h2.4v2.4h-2.4zM203.00 471.38h2.4v2.4h-2.4zM203.89 471.05h2.4v2.4h-2.4zM204.78 470.56h2.4v2.4h-2.4zM205.66 470.07h2.4v2.4h-2.4zM206.55 469.58h2.4v2.4h-2.4zM207.44 469.09h2.4v2.4h-2.4zM208.33 468.60h2.4v2.4h-2.4zM209.21 468.11h2.4v2.4h-2.4zM210.10 467.61h2.4v2.4h-2.4zM210.99 467.12h2.4v2.4h-2.4zM211.88 466.63h2.4v2.4h-2.4zM212.76 466.14h2.4v2.4h-2.4zM213.65 465.63h2.4v2.4h-2.4zM214.54 465.09h2.4v2.4h-2.4zM215.43 464.55h2.4v2.4h-2.4zM216.31 464.01h2.4v2.4h-2.4zM217.20 463.47h2.4v2.4h-2.4zM218.09 462.94h2.4v2.4h-2.4zM218.97 462.40h2.4v2.4h-2.4zM219.86 461.86h2.4v2.4h-2.4zM220.75 461.32h2.4v2.4h-2.4zM221.64 460.78h2.4v2.4h-2.4zM222.53 460.25h2.4v2.4h-2.4zM223.41 459.29h2.4v2.4h-2.4zM224.30 458.29h2.4v2.4h-2.4zM225.19 457.30h2.4v2.4h-2.4zM226.07 456.29h2.4v2.4h-2.4zM226.96 455.22h2.4v2.4h-2.4zM227.85 454.14h2.4v2.4h-2.4zM228.74 452.97h2.4v2.4h-2.4zM229.62 451.70h2.4v2.4h-2.4zM230.51 450.43h2.4v2.4h-2.4z" fill="#000"/>
<path d="M231.70 444.30h2.2v2.2h-2.2zM232.59 443.20h2.2v2.2h-2.2zM233.48 442.10h2.2v2.2h-2.2zM234.36 441.00h2.2v2.2h-2.2zM235.25 439.90h2.2v2.2h-2.2zM236.14 439.10h2.2v2.2h-2.2z" fill="#000"/>
<rect x="236.90" y="436.30" width="2.20" height="2.2" fill="#000"/>
<path d="M237.80 433.00h2.2v2.2h-2.2zM238.69 431.90h2.2v2.2h-2.2zM239.58 430.80h2.2v2.2h-2.2zM240.46 429.71h2.2v2.2h-2.2zM241.35 428.61h2.2v2.2h-2.2z" fill="#000"/>
<path d="M46.70 531.70h2.6v2.6h-2.6zM47.59 530.40h2.6v2.6h-2.6zM48.48 530.40h2.6v2.6h-2.6zM49.36 530.40h2.6v2.6h-2.6zM50.25 529.10h2.6v2.6h-2.6zM51.14 529.10h2.6v2.6h-2.6zM52.03 527.80h2.6v2.6h-2.6zM52.91 527.80h2.6v2.6h-2.6zM53.80 527.80h2.6v2.6h-2.6zM54.69 527.80h2.6v2.6h-2.6zM55.58 526.50h2.6v2.6h-2.6zM56.46 526.50h2.6v2.6h-2.6zM57.35 526.50h2.6v2.6h-2.6zM58.24 525.20h2.6v2.6h-2.6zM59.12 525.20h2.6v2.6h-2.6zM60.01 525.20h2.6v2.6h-2.6zM60.90 525.20h2.6v2.6h-2.6zM61.79 523.90h2.6v2.6h-2.6zM62.68 523.90h2.6v2.6h-2.6zM63.56 523.90h2.6v2.6h-2.6zM64.45 522.60h2.6v2.6h-2.6zM65.34 522.60h2.6v2.6h-2.6zM66.23 521.30h2.6v2.6h-2.6zM67.11 520.00h2.6v2.6h-2.6zM68.00 518.70h2.6v2.6h-2.6zM68.89 518.70h2.6v2.6h-2.6zM69.78 518.70h2.6v2.6h-2.6zM70.66 517.40h2.6v2.6h-2.6zM71.55 517.40h2.6v2.6h-2.6zM72.44 517.40h2.6v2.6h-2.6zM73.33 517.40h2.6v2.6h-2.6zM74.21 516.10h2.6v2.6h-2.6zM75.10 516.10h2.6v2.6h-2.6zM75.99 516.10h2.6v2.6h-2.6zM76.88 516.10h2.6v2.6h-2.6zM77.76 514.80h2.6v2.6h-2.6zM78.65 514.80h2.6v2.6h-2.6zM79.54 514.80h2.6v2.6h-2.6zM80.42 513.50h2.6v2.6h-2.6zM81.31 513.50h2.6v2.6h-2.6zM82.20 513.50h2.6v2.6h-2.6zM83.09 512.20h2.6v2.6h-2.6zM83.98 512.20h2.6v2.6h-2.6zM84.86 512.20h2.6v2.6h-2.6zM85.75 510.90h2.6v2.6h-2.6zM86.64 510.90h2.6v2.6h-2.6zM87.52 510.90h2.6v2.6h-2.6zM88.41 509.60h2.6v2.6h-2.6zM89.30 509.60h2.6v2.6h-2.6zM90.19 509.60h2.6v2.6h-2.6zM91.08 509.60h2.6v2.6h-2.6zM91.96 508.30h2.6v2.6h-2.6zM92.85 508.30h2.6v2.6h-2.6zM93.74 508.30h2.6v2.6h-2.6zM94.62 508.30h2.6v2.6h-2.6zM95.51 507.00h2.6v2.6h-2.6zM96.40 507.00h2.6v2.6h-2.6zM97.29 507.00h2.6v2.6h-2.6zM98.17 505.70h2.6v2.6h-2.6zM99.06 505.70h2.6v2.6h-2.6zM99.95 505.70h2.6v2.6h-2.6zM100.84 504.40h2.6v2.6h-2.6zM101.73 504.40h2.6v2.6h-2.6zM102.61 504.40h2.6v2.6h-2.6zM103.50 503.10h2.6v2.6h-2.6zM104.39 503.10h2.6v2.6h-2.6zM105.27 501.80h2.6v2.6h-2.6zM106.16 501.80h2.6v2.6h-2.6zM107.05 500.50h2.6v2.6h-2.6zM107.94 500.50h2.6v2.6h-2.6zM108.83 499.20h2.6v2.6h-2.6zM109.71 499.20h2.6v2.6h-2.6zM110.60 497.90h2.6v2.6h-2.6zM111.49 497.90h2.6v2.6h-2.6zM112.38 497.90h2.6v2.6h-2.6zM113.26 496.60h2.6v2.6h-2.6zM114.15 496.60h2.6v2.6h-2.6zM115.04 496.60h2.6v2.6h-2.6zM115.92 495.30h2.6v2.6h-2.6zM116.81 495.30h2.6v2.6h-2.6zM117.70 495.30h2.6v2.6h-2.6zM118.59 494.00h2.6v2.6h-2.6zM119.47 494.00h2.6v2.6h-2.6zM120.36 494.00h2.6v2.6h-2.6zM121.25 492.70h2.6v2.6h-2.6zM122.14 492.70h2.6v2.6h-2.6zM123.03 491.40h2.6v2.6h-2.6zM123.91 491.40h2.6v2.6h-2.6zM124.80 490.10h2.6v2.6h-2.6zM125.69 490.10h2.6v2.6h-2.6zM126.58 490.10h2.6v2.6h-2.6zM127.46 490.10h2.6v2.6h-2.6zM128.35 490.10h2.6v2.6h-2.6zM129.24 490.10h2.6v2.6h-2.6zM130.12 488.80h2.6v2.6h-2.6zM131.01 488.80h2.6v2.6h-2.6zM131.90 488.80h2.6v2.6h-2.6zM132.79 487.50h2.6v2.6h-2.6zM133.67 487.50h2.6v2.6h-2.6zM134.56 487.50h2.6v2.6h-2.6zM135.45 486.20h2.6v2.6h-2.6zM136.34 486.20h2.6v2.6h-2.6zM137.22 484.90h2.6v2.6h-2.6zM138.11 484.90h2.6v2.6h-2.6zM139.00 484.90h2.6v2.6h-2.6zM139.89 483.60h2.6v2.6h-2.6zM140.77 483.60h2.6v2.6h-2.6zM141.66 483.60h2.6v2.6h-2.6zM142.55 482.30h2.6v2.6h-2.6zM143.44 482.30h2.6v2.6h-2.6zM144.32 481.00h2.6v2.6h-2.6zM145.21 481.00h2.6v2.6h-2.6zM146.10 481.00h2.6v2.6h-2.6zM146.99 479.70h2.6v2.6h-2.6zM147.88 479.70h2.6v2.6h-2.6zM148.76 479.70h2.6v2.6h-2.6zM149.65 478.40h2.6v2.6h-2.6zM150.54 478.40h2.6v2.6h-2.6zM151.42 478.40h2.6v2.6h-2.6zM152.31 477.10h2.6v2.6h-2.6zM153.20 477.10h2.6v2.6h-2.6zM154.09 477.10h2.6v2.6h-2.6zM154.97 477.10h2.6v2.6h-2.6zM155.86 475.80h2.6v2.6h-2.6zM156.75 475.80h2.6v2.6h-2.6zM157.64 475.80h2.6v2.6h-2.6zM158.52 474.50h2.6v2.6h-2.6zM159.41 474.50h2.6v2.6h-2.6zM160.30 474.50h2.6v2.6h-2.6zM161.19 473.20h2.6v2.6h-2.6zM162.07 473.20h2.6v2.6h-2.6zM162.96 473.20h2.6v2.6h-2.6zM163.85 473.20h2.6v2.6h-2.6zM164.74 471.90h2.6v2.6h-2.6zM165.62 471.90h2.6v2.6h-2.6zM166.51 471.90h2.6v2.6h-2.6zM167.40 470.60h2.6v2.6h-2.6zM168.29 470.60h2.6v2.6h-2.6zM169.17 470.60h2.6v2.6h-2.6zM170.06 470.60h2.6v2.6h-2.6zM170.95 469.30h2.6v2.6h-2.6zM171.84 469.30h2.6v2.6h-2.6zM172.72 469.30h2.6v2.6h-2.6zM173.61 469.30h2.6v2.6h-2.6zM174.50 468.00h2.6v2.6h-2.6zM175.39 468.00h2.6v2.6h-2.6zM176.27 468.00h2.6v2.6h-2.6zM177.16 466.70h2.6v2.6h-2.6zM178.05 466.70h2.6v2.6h-2.6zM178.94 466.70h2.6v2.6h-2.6zM179.82 466.70h2.6v2.6h-2.6zM180.71 465.40h2.6v2.6h-2.6zM181.60 465.40h2.6v2.6h-2.6zM182.49 465.40h2.6v2.6h-2.6zM183.37 465.40h2.6v2.6h-2.6zM184.26 464.10h2.6v2.6h-2.6zM185.15 464.10h2.6v2.6h-2.6zM186.04 464.10h2.6v2.6h-2.6zM186.92 462.80h2.6v2.6h-2.6zM187.81 462.80h2.6v2.6h-2.6zM188.70 462.80h2.6v2.6h-2.6zM189.59 461.50h2.6v2.6h-2.6zM190.47 461.50h2.6v2.6h-2.6zM191.36 461.50h2.6v2.6h-2.6zM192.25 461.50h2.6v2.6h-2.6zM193.14 460.20h2.6v2.6h-2.6zM194.02 460.20h2.6v2.6h-2.6zM194.91 460.20h2.6v2.6h-2.6zM195.80 458.90h2.6v2.6h-2.6zM196.69 458.90h2.6v2.6h-2.6zM197.57 458.90h2.6v2.6h-2.6zM198.46 457.60h2.6v2.6h-2.6zM199.35 457.60h2.6v2.6h-2.6zM200.24 456.30h2.6v2.6h-2.6zM201.12 456.30h2.6v2.6h-2.6zM202.01 455.00h2.6v2.6h-2.6zM202.90 455.00h2.6v2.6h-2.6zM203.79 455.00h2.6v2.6h-2.6zM204.67 453.70h2.6v2.6h-2.6zM205.56 453.70h2.6v2.6h-2.6zM206.45 452.40h2.6v2.6h-2.6zM207.34 452.40h2.6v2.6h-2.6zM208.22 452.40h2.6v2.6h-2.6zM209.11 451.10h2.6v2.6h-2.6zM210.00 451.10h2.6v2.6h-2.6zM210.89 449.80h2.6v2.6h-2.6zM211.77 449.80h2.6v2.6h-2.6zM212.66 448.50h2.6v2.6h-2.6zM213.55 448.50h2.6v2.6h-2.6zM214.44 447.20h2.6v2.6h-2.6zM215.32 447.20h2.6v2.6h-2.6zM216.21 445.90h2.6v2.6h-2.6zM217.10 445.90h2.6v2.6h-2.6zM217.99 444.60h2.6v2.6h-2.6zM218.87 444.60h2.6v2.6h-2.6zM219.76 443.30h2.6v2.6h-2.6zM220.65 442.00h2.6v2.6h-2.6zM221.54 442.00h2.6v2.6h-2.6zM222.42 440.70h2.6v2.6h-2.6zM223.31 439.40h2.6v2.6h-2.6zM224.20 438.10h2.6v2.6h-2.6zM225.09 436.80h2.6v2.6h-2.6zM225.97 435.50h2.6v2.6h-2.6zM226.86 434.20h2.6v2.6h-2.6zM227.75 432.90h2.6v2.6h-2.6zM228.64 431.60h2.6v2.6h-2.6zM229.52 430.30h2.6v2.6h-2.6zM230.41 427.70h2.6v2.6h-2.6z" fill="#727272"/>
<path d="M47.50 532.50h1.0v1.0h-1.0zM48.39 531.20h1.0v1.0h-1.0zM49.27 531.20h1.0v1.0h-1.0zM50.16 531.20h1.0v1.0h-1.0zM51.05 529.90h1.0v1.0h-1.0zM51.94 529.90h1.0v1.0h-1.0zM52.83 528.60h1.0v1.0h-1.0zM53.71 528.60h1.0v1.0h-1.0zM54.60 528.60h1.0v1.0h-1.0zM55.49 528.60h1.0v1.0h-1.0zM56.38 527.30h1.0v1.0h-1.0zM57.26 527.30h1.0v1.0h-1.0zM58.15 527.30h1.0v1.0h-1.0zM59.04 526.00h1.0v1.0h-1.0zM59.92 526.00h1.0v1.0h-1.0zM60.81 526.00h1.0v1.0h-1.0zM61.70 526.00h1.0v1.0h-1.0zM62.59 524.70h1.0v1.0h-1.0zM63.48 524.70h1.0v1.0h-1.0zM64.36 524.70h1.0v1.0h-1.0zM65.25 523.40h1.0v1.0h-1.0zM66.14 523.40h1.0v1.0h-1.0zM67.03 522.10h1.0v1.0h-1.0zM67.91 520.80h1.0v1.0h-1.0zM68.80 519.50h1.0v1.0h-1.0zM69.69 519.50h1.0v1.0h-1.0zM70.58 519.50h1.0v1.0h-1.0zM71.46 518.20h1.0v1.0h-1.0zM72.35 518.20h1.0v1.0h-1.0zM73.24 518.20h1.0v1.0h-1.0zM74.12 518.20h1.0v1.0h-1.0zM75.01 516.90h1.0v1.0h-1.0zM75.90 516.90h1.0v1.0h-1.0zM76.79 516.90h1.0v1.0h-1.0zM77.67 516.90h1.0v1.0h-1.0zM78.56 515.60h1.0v1.0h-1.0zM79.45 515.60h1.0v1.0h-1.0zM80.34 515.60h1.0v1.0h-1.0zM81.22 514.30h1.0v1.0h-1.0zM82.11 514.30h1.0v1.0h-1.0zM83.00 514.30h1.0v1.0h-1.0zM83.89 513.00h1.0v1.0h-1.0zM84.78 513.00h1.0v1.0h-1.0zM85.66 513.00h1.0v1.0h-1.0zM86.55 511.70h1.0v1.0h-1.0zM87.44 511.70h1.0v1.0h-1.0zM88.32 511.70h1.0v1.0h-1.0zM89.21 510.40h1.0v1.0h-1.0zM90.10 510.40h1.0v1.0h-1.0zM90.99 510.40h1.0v1.0h-1.0zM91.88 510.40h1.0v1.0h-1.0zM92.76 509.10h1.0v1.0h-1.0zM93.65 509.10h1.0v1.0h-1.0zM94.54 509.10h1.0v1.0h-1.0zM95.42 509.10h1.0v1.0h-1.0zM96.31 507.80h1.0v1.0h-1.0zM97.20 507.80h1.0v1.0h-1.0zM98.09 507.80h1.0v1.0h-1.0zM98.97 506.50h1.0v1.0h-1.0zM99.86 506.50h1.0v1.0h-1.0zM100.75 506.50h1.0v1.0h-1.0zM101.64 505.20h1.0v1.0h-1.0zM102.53 505.20h1.0v1.0h-1.0zM103.41 505.20h1.0v1.0h-1.0zM104.30 503.90h1.0v1.0h-1.0zM105.19 503.90h1.0v1.0h-1.0zM106.07 502.60h1.0v1.0h-1.0zM106.96 502.60h1.0v1.0h-1.0zM107.85 501.30h1.0v1.0h-1.0zM108.74 501.30h1.0v1.0h-1.0zM109.62 500.00h1.0v1.0h-1.0zM110.51 500.00h1.0v1.0h-1.0zM111.40 498.70h1.0v1.0h-1.0zM112.29 498.70h1.0v1.0h-1.0zM113.17 498.70h1.0v1.0h-1.0zM114.06 497.40h1.0v1.0h-1.0zM114.95 497.40h1.0v1.0h-1.0zM115.84 497.40h1.0v1.0h-1.0zM116.72 496.10h1.0v1.0h-1.0zM117.61 496.10h1.0v1.0h-1.0zM118.50 496.10h1.0v1.0h-1.0zM119.39 494.80h1.0v1.0h-1.0zM120.27 494.80h1.0v1.0h-1.0zM121.16 494.80h1.0v1.0h-1.0zM122.05 493.50h1.0v1.0h-1.0zM122.94 493.50h1.0v1.0h-1.0zM123.83 492.20h1.0v1.0h-1.0zM124.71 492.20h1.0v1.0h-1.0zM125.60 490.90h1.0v1.0h-1.0zM126.49 490.90h1.0v1.0h-1.0zM127.38 490.90h1.0v1.0h-1.0zM128.26 490.90h1.0v1.0h-1.0zM129.15 490.90h1.0v1.0h-1.0zM130.04 490.90h1.0v1.0h-1.0zM130.93 489.60h1.0v1.0h-1.0zM131.81 489.60h1.0v1.0h-1.0zM132.70 489.60h1.0v1.0h-1.0zM133.59 488.30h1.0v1.0h-1.0zM134.47 488.30h1.0v1.0h-1.0zM135.36 488.30h1.0v1.0h-1.0zM136.25 487.00h1.0v1.0h-1.0zM137.14 487.00h1.0v1.0h-1.0zM138.02 485.70h1.0v1.0h-1.0zM138.91 485.70h1.0v1.0h-1.0zM139.80 485.70h1.0v1.0h-1.0zM140.69 484.40h1.0v1.0h-1.0zM141.57 484.40h1.0v1.0h-1.0zM142.46 484.40h1.0v1.0h-1.0zM143.35 483.10h1.0v1.0h-1.0zM144.24 483.10h1.0v1.0h-1.0zM145.12 481.80h1.0v1.0h-1.0zM146.01 481.80h1.0v1.0h-1.0zM146.90 481.80h1.0v1.0h-1.0zM147.79 480.50h1.0v1.0h-1.0zM148.68 480.50h1.0v1.0h-1.0zM149.56 480.50h1.0v1.0h-1.0zM150.45 479.20h1.0v1.0h-1.0zM151.34 479.20h1.0v1.0h-1.0zM152.22 479.20h1.0v1.0h-1.0zM153.11 477.90h1.0v1.0h-1.0zM154.00 477.90h1.0v1.0h-1.0zM154.89 477.90h1.0v1.0h-1.0zM155.77 477.90h1.0v1.0h-1.0zM156.66 476.60h1.0v1.0h-1.0zM157.55 476.60h1.0v1.0h-1.0zM158.44 476.60h1.0v1.0h-1.0zM159.32 475.30h1.0v1.0h-1.0zM160.21 475.30h1.0v1.0h-1.0zM161.10 475.30h1.0v1.0h-1.0zM161.99 474.00h1.0v1.0h-1.0zM162.88 474.00h1.0v1.0h-1.0zM163.76 474.00h1.0v1.0h-1.0zM164.65 474.00h1.0v1.0h-1.0zM165.54 472.70h1.0v1.0h-1.0zM166.43 472.70h1.0v1.0h-1.0zM167.31 472.70h1.0v1.0h-1.0zM168.20 471.40h1.0v1.0h-1.0zM169.09 471.40h1.0v1.0h-1.0zM169.97 471.40h1.0v1.0h-1.0zM170.86 471.40h1.0v1.0h-1.0zM171.75 470.10h1.0v1.0h-1.0zM172.64 470.10h1.0v1.0h-1.0zM173.52 470.10h1.0v1.0h-1.0zM174.41 470.10h1.0v1.0h-1.0zM175.30 468.80h1.0v1.0h-1.0zM176.19 468.80h1.0v1.0h-1.0zM177.07 468.80h1.0v1.0h-1.0zM177.96 467.50h1.0v1.0h-1.0zM178.85 467.50h1.0v1.0h-1.0zM179.74 467.50h1.0v1.0h-1.0zM180.62 467.50h1.0v1.0h-1.0zM181.51 466.20h1.0v1.0h-1.0zM182.40 466.20h1.0v1.0h-1.0zM183.29 466.20h1.0v1.0h-1.0zM184.17 466.20h1.0v1.0h-1.0zM185.06 464.90h1.0v1.0h-1.0zM185.95 464.90h1.0v1.0h-1.0zM186.84 464.90h1.0v1.0h-1.0zM187.72 463.60h1.0v1.0h-1.0zM188.61 463.60h1.0v1.0h-1.0zM189.50 463.60h1.0v1.0h-1.0zM190.39 462.30h1.0v1.0h-1.0zM191.28 462.30h1.0v1.0h-1.0zM192.16 462.30h1.0v1.0h-1.0zM193.05 462.30h1.0v1.0h-1.0zM193.94 461.00h1.0v1.0h-1.0zM194.82 461.00h1.0v1.0h-1.0zM195.71 461.00h1.0v1.0h-1.0zM196.60 459.70h1.0v1.0h-1.0zM197.49 459.70h1.0v1.0h-1.0zM198.38 459.70h1.0v1.0h-1.0zM199.26 458.40h1.0v1.0h-1.0zM200.15 458.40h1.0v1.0h-1.0zM201.04 457.10h1.0v1.0h-1.0zM201.92 457.10h1.0v1.0h-1.0zM202.81 455.80h1.0v1.0h-1.0zM203.70 455.80h1.0v1.0h-1.0zM204.59 455.80h1.0v1.0h-1.0zM205.47 454.50h1.0v1.0h-1.0zM206.36 454.50h1.0v1.0h-1.0zM207.25 453.20h1.0v1.0h-1.0zM208.14 453.20h1.0v1.0h-1.0zM209.03 453.20h1.0v1.0h-1.0zM209.91 451.90h1.0v1.0h-1.0zM210.80 451.90h1.0v1.0h-1.0zM211.69 450.60h1.0v1.0h-1.0zM212.57 450.60h1.0v1.0h-1.0zM213.46 449.30h1.0v1.0h-1.0zM214.35 449.30h1.0v1.0h-1.0zM215.24 448.00h1.0v1.0h-1.0zM216.12 448.00h1.0v1.0h-1.0zM217.01 446.70h1.0v1.0h-1.0zM217.90 446.70h1.0v1.0h-1.0zM218.79 445.40h1.0v1.0h-1.0zM219.67 445.40h1.0v1.0h-1.0zM220.56 444.10h1.0v1.0h-1.0zM221.45 442.80h1.0v1.0h-1.0zM222.34 442.80h1.0v1.0h-1.0zM223.22 441.50h1.0v1.0h-1.0zM224.11 440.20h1.0v1.0h-1.0zM225.00 438.90h1.0v1.0h-1.0zM225.89 437.60h1.0v1.0h-1.0zM226.77 436.30h1.0v1.0h-1.0zM227.66 435.00h1.0v1.0h-1.0zM228.55 433.70h1.0v1.0h-1.0zM229.44 432.40h1.0v1.0h-1.0zM230.32 431.10h1.0v1.0h-1.0zM231.21 428.50h1.0v1.0h-1.0z" fill="#c8c8c8"/>
<line x1="309.50" y1="33.70" x2="309.50" y2="153.00" stroke="#1a1a1a" stroke-width="1.05"/>
<line x1="308.90" y1="152.40" x2="517.00" y2="152.40" stroke="#000" stroke-width="1.4"/>
<line x1="307.70" y1="34.20" x2="309.50" y2="34.20" stroke="#000" stroke-width="1.0"/>
<line x1="307.70" y1="93.60" x2="309.50" y2="93.60" stroke="#000" stroke-width="1.0"/>
<line x1="307.70" y1="152.40" x2="309.50" y2="152.40" stroke="#000" stroke-width="1.0"/>
<line x1="321.35" y1="118.00" x2="321.35" y2="133.00" stroke="#000" stroke-width="1.0"/>
<line x1="319.85" y1="118.30" x2="322.85" y2="118.30" stroke="#000" stroke-width="1.15"/>
<rect x="314.75" y="133.00" width="13.20" height="19.40" fill="#000"/>
<line x1="338.04" y1="103.00" x2="338.04" y2="124.50" stroke="#000" stroke-width="1.0"/>
<line x1="336.54" y1="103.30" x2="339.54" y2="103.30" stroke="#000" stroke-width="1.15"/>
<rect x="331.44" y="124.50" width="13.20" height="27.90" fill="#000"/>
<line x1="354.73" y1="124.25" x2="354.73" y2="136.25" stroke="#000" stroke-width="1.0"/>
<line x1="353.23" y1="124.55" x2="356.23" y2="124.55" stroke="#000" stroke-width="1.15"/>
<rect x="348.13" y="136.25" width="13.20" height="16.15" fill="#000"/>
<line x1="371.42" y1="128.25" x2="371.42" y2="140.00" stroke="#000" stroke-width="1.0"/>
<line x1="369.92" y1="128.55" x2="372.92" y2="128.55" stroke="#000" stroke-width="1.15"/>
<rect x="364.82" y="140.00" width="13.20" height="12.40" fill="#000"/>
<line x1="388.11" y1="111.00" x2="388.11" y2="127.70" stroke="#000" stroke-width="1.0"/>
<line x1="386.61" y1="111.30" x2="389.61" y2="111.30" stroke="#000" stroke-width="1.15"/>
<rect x="381.51" y="127.70" width="13.20" height="24.70" fill="#000"/>
<line x1="404.80" y1="115.60" x2="404.80" y2="131.70" stroke="#000" stroke-width="1.0"/>
<line x1="403.30" y1="115.90" x2="406.30" y2="115.90" stroke="#000" stroke-width="1.15"/>
<rect x="398.75" y="132.25" width="12.10" height="20.15" fill="#c6c6c6" stroke="#000" stroke-width="1.1"/>
<rect x="482.20" y="152.55" width="12.10" height="-0.15" fill="#fff" stroke="#000" stroke-width="1.1"/>
<path d="M323.70 157.80V171.90H321.30V160.83C319.98 161.61 318.42 162.03 317.70 162.03V160.06C319.38 159.99 320.94 159.21 321.90 157.80Z" fill="#000"/>
<text transform="translate(331.11,171.97) scale(1.1200,1)" font-size="20.57" stroke-width="0.5">2</text>
<text transform="translate(348.25,171.77) scale(1.1200,1)" font-size="20.28" stroke-width="0.5">3</text>
<text transform="translate(364.27,171.97) scale(1.1200,1)" font-size="20.87" stroke-width="0.5">4</text>
<text transform="translate(382.01,171.77) scale(1.1200,1)" font-size="20.57" stroke-width="0.5">5</text>
<text transform="translate(395.25,171.97) scale(1.1200,1)" font-size="20.00" stroke-width="0.5">m</text>
<path d="M424.40 157.80V171.90H422.00V160.83C420.68 161.61 419.12 162.03 418.40 162.03V160.06C420.08 159.99 421.64 159.21 422.60 157.80Z" fill="#000"/>
<text transform="translate(432.41,171.97) scale(1.1200,1)" font-size="20.57" stroke-width="0.5">2</text>
<text transform="translate(450.65,171.77) scale(1.1200,1)" font-size="20.28" stroke-width="0.5">3</text>
<text transform="translate(465.27,171.97) scale(1.1200,1)" font-size="20.87" stroke-width="0.5">4</text>
<text transform="translate(483.71,171.77) scale(1.1200,1)" font-size="20.57" stroke-width="0.5">5</text>
<text transform="translate(497.15,171.97) scale(1.1200,1)" font-size="20.00" stroke-width="0.5">m</text>
<text transform="translate(502.02,150.75) scale(1.0000,1)" font-size="17.86" stroke-width="0.6">*</text>
<path d="M290.80 28.90V42.80H288.28V31.89C286.89 32.65 285.26 33.07 284.50 33.07V31.12C286.26 31.05 287.90 30.29 288.91 28.90Z" fill="#000"/>
<text transform="translate(293.13,42.68) scale(1.2497,1)" font-size="19.86" font-weight="normal" stroke-width="0.5">0</text>
<text transform="translate(293.98,101.17) scale(1.1842,1)" font-size="20.00" font-weight="normal" stroke-width="0.5">5</text>
<text transform="translate(293.98,159.28) scale(1.1949,1)" font-size="19.72" font-weight="normal" stroke-width="0.5">0</text>
<text transform="translate(283.35,125.05) rotate(-90) scale(1.0275,1)" font-size="20.83" stroke-width="0.5">Copy</text>
<text transform="translate(348.37,191.18) scale(1.0619,1)" font-size="19.86" font-weight="normal" stroke-width="0.5">CB</text>
<text transform="translate(457.57,191.67) scale(1.0420,1)" font-size="20.58" font-weight="normal" stroke-width="0.5">AB</text>
<g transform="translate(254.50,0.30)" fill="none" stroke="#000" stroke-linecap="round"><path d="M61.5 37.4 C61.7 35.3 63.6 34.4 64.6 36.6 C65.6 39.2 66.4 41.6 66.7 44" stroke-width="2.3"/><path d="M71.4 34.6 C70.4 38 68.6 41.6 67.4 44.2" stroke-width="1.8"/><path d="M67 42.6 C65.6 44 64.8 46.5 65 47.8 C65.2 49.3 67.4 49.3 67.9 47.8 C68.3 46.5 67.9 44 67 42.6 Z" fill="#000" stroke-width="0.6"/></g>
<rect x="454.10" y="151.00" width="2.80" height="1.00" fill="#000"/>
<rect x="470.40" y="151.00" width="2.80" height="1.00" fill="#000"/>
<rect x="487.30" y="150.20" width="2.80" height="1.80" fill="#000"/>
<rect x="504.20" y="150.80" width="2.80" height="1.20" fill="#000"/>
<line x1="309.70" y1="235.00" x2="309.70" y2="349.10" stroke="#1a1a1a" stroke-width="1.05"/>
<line x1="309.10" y1="348.50" x2="517.00" y2="348.50" stroke="#000" stroke-width="1.4"/>
<line x1="307.90" y1="235.40" x2="309.70" y2="235.40" stroke="#000" stroke-width="1.0"/>
<line x1="307.90" y1="292.70" x2="309.70" y2="292.70" stroke="#000" stroke-width="1.0"/>
<line x1="307.90" y1="348.50" x2="309.70" y2="348.50" stroke="#000" stroke-width="1.0"/>
<line x1="321.35" y1="293.75" x2="321.35" y2="318.00" stroke="#000" stroke-width="1.0"/>
<line x1="319.85" y1="294.05" x2="322.85" y2="294.05" stroke="#000" stroke-width="1.15"/>
<rect x="314.75" y="318.00" width="13.20" height="30.50" fill="#000"/>
<line x1="338.04" y1="308.00" x2="338.04" y2="329.50" stroke="#000" stroke-width="1.0"/>
<line x1="336.54" y1="308.30" x2="339.54" y2="308.30" stroke="#000" stroke-width="1.15"/>
<rect x="331.44" y="329.50" width="13.20" height="19.00" fill="#000"/>
<line x1="354.73" y1="290.50" x2="354.73" y2="315.75" stroke="#000" stroke-width="1.0"/>
<line x1="353.23" y1="290.80" x2="356.23" y2="290.80" stroke="#000" stroke-width="1.15"/>
<rect x="348.13" y="315.75" width="13.20" height="32.75" fill="#000"/>
<line x1="371.42" y1="276.25" x2="371.42" y2="306.75" stroke="#000" stroke-width="1.0"/>
<line x1="369.92" y1="276.55" x2="372.92" y2="276.55" stroke="#000" stroke-width="1.15"/>
<rect x="364.82" y="306.75" width="13.20" height="41.75" fill="#000"/>
<line x1="388.11" y1="320.00" x2="388.11" y2="334.80" stroke="#000" stroke-width="1.0"/>
<line x1="386.61" y1="320.30" x2="389.61" y2="320.30" stroke="#000" stroke-width="1.15"/>
<rect x="381.51" y="334.80" width="13.20" height="13.70" fill="#000"/>
<line x1="404.80" y1="297.10" x2="404.80" y2="321.90" stroke="#000" stroke-width="1.0"/>
<line x1="403.30" y1="297.40" x2="406.30" y2="297.40" stroke="#000" stroke-width="1.15"/>
<rect x="398.75" y="322.45" width="12.10" height="26.05" fill="#c6c6c6" stroke="#000" stroke-width="1.1"/>
<line x1="421.49" y1="281.80" x2="421.49" y2="305.70" stroke="#000" stroke-width="1.0"/>
<line x1="419.99" y1="282.10" x2="422.99" y2="282.10" stroke="#000" stroke-width="1.15"/>
<rect x="415.44" y="306.25" width="12.10" height="42.25" fill="#fff" stroke="#000" stroke-width="1.1"/>
<line x1="438.18" y1="281.00" x2="438.18" y2="303.30" stroke="#000" stroke-width="1.0"/>
<line x1="436.68" y1="281.30" x2="439.68" y2="281.30" stroke="#000" stroke-width="1.15"/>
<rect x="432.13" y="303.85" width="12.10" height="44.65" fill="#fff" stroke="#000" stroke-width="1.1"/>
<line x1="454.87" y1="258.00" x2="454.87" y2="289.60" stroke="#000" stroke-width="1.0"/>
<line x1="453.37" y1="258.30" x2="456.37" y2="258.30" stroke="#000" stroke-width="1.15"/>
<rect x="448.82" y="290.15" width="12.10" height="58.35" fill="#fff" stroke="#000" stroke-width="1.1"/>
<line x1="471.56" y1="235.70" x2="471.56" y2="272.00" stroke="#000" stroke-width="1.0"/>
<line x1="470.06" y1="236.00" x2="473.06" y2="236.00" stroke="#000" stroke-width="1.15"/>
<rect x="465.51" y="272.55" width="12.10" height="75.95" fill="#fff" stroke="#000" stroke-width="1.1"/>
<line x1="488.25" y1="239.20" x2="488.25" y2="301.00" stroke="#000" stroke-width="1.0"/>
<line x1="486.75" y1="239.50" x2="489.75" y2="239.50" stroke="#000" stroke-width="1.15"/>
<rect x="482.20" y="301.55" width="12.10" height="46.95" fill="#fff" stroke="#000" stroke-width="1.1"/>
<line x1="504.94" y1="250.00" x2="504.94" y2="292.50" stroke="#000" stroke-width="1.0"/>
<line x1="503.44" y1="250.30" x2="506.44" y2="250.30" stroke="#000" stroke-width="1.15"/>
<rect x="498.89" y="293.05" width="12.10" height="55.45" fill="#c6c6c6" stroke="#000" stroke-width="1.1"/>
<path d="M323.70 356.00V369.20H321.30V358.84C319.98 359.56 318.42 359.96 317.70 359.96V358.11C319.38 358.05 320.94 357.32 321.90 356.00Z" fill="#000"/>
<text transform="translate(331.71,369.28) scale(1.1200,1)" font-size="19.28" stroke-width="0.5">2</text>
<text transform="translate(348.34,369.08) scale(1.1200,1)" font-size="19.01" stroke-width="0.5">3</text>
<text transform="translate(362.97,369.28) scale(1.1200,1)" font-size="19.56" stroke-width="0.5">4</text>
<text transform="translate(382.41,369.08) scale(1.1200,1)" font-size="19.28" stroke-width="0.5">5</text>
<text transform="translate(395.73,369.28) scale(1.1200,1)" font-size="18.33" stroke-width="0.5">m</text>
<path d="M424.20 356.00V369.20H421.80V358.84C420.48 359.56 418.92 359.96 418.20 359.96V358.11C419.88 358.05 421.44 357.32 422.40 356.00Z" fill="#000"/>
<text transform="translate(432.41,369.28) scale(1.1200,1)" font-size="19.28" stroke-width="0.5">2</text>
<text transform="translate(448.24,369.08) scale(1.1200,1)" font-size="19.01" stroke-width="0.5">3</text>
<text transform="translate(463.77,369.28) scale(1.1200,1)" font-size="19.56" stroke-width="0.5">4</text>
<text transform="translate(481.51,369.08) scale(1.1200,1)" font-size="19.28" stroke-width="0.5">5</text>
<text transform="translate(496.03,369.28) scale(1.1200,1)" font-size="18.33" stroke-width="0.5">m</text>
<text transform="translate(501.92,246.35) scale(1.0000,1)" font-size="17.86" stroke-width="0.6">*</text>
<path d="M290.80 228.90V242.60H288.28V231.85C286.89 232.60 285.26 233.01 284.50 233.01V231.09C286.26 231.02 287.90 230.27 288.91 228.90Z" fill="#000"/>
<text transform="translate(293.13,242.48) scale(1.2677,1)" font-size="19.58" font-weight="normal" stroke-width="0.5">0</text>
<text transform="translate(293.98,299.78) scale(1.1842,1)" font-size="20.00" font-weight="normal" stroke-width="0.5">5</text>
<text transform="translate(293.98,354.18) scale(1.1949,1)" font-size="19.72" font-weight="normal" stroke-width="0.5">0</text>
<text transform="translate(283.35,319.24) rotate(-90) scale(1.0233,1)" font-size="20.83" stroke-width="0.5">Copy</text>
<text transform="translate(348.37,387.68) scale(1.1011,1)" font-size="19.15" font-weight="normal" stroke-width="0.5">CB</text>
<text transform="translate(448.08,388.48) scale(1.0123,1)" font-size="19.56" font-weight="normal" stroke-width="0.5">AB</text>
<g transform="translate(254.90,-0.30)" fill="none" stroke="#000" stroke-linecap="butt" stroke-linejoin="round"><path d="M62.6 255.8 L63.2 241 C63.3 237.6 65 236.6 66.8 236.6 C69 236.6 70.2 238 70.2 240 C70.2 242.2 68.8 243.6 66.3 243.8 C69.5 243.9 71.7 245.2 71.7 247.3 C71.7 249.6 69.8 250.8 67.5 250.8 C66 250.8 64.6 250.4 63.3 249.4" stroke-width="1.8"/><path d="M69.6 238.2 C70.1 239.4 70.1 240.8 69.5 242" stroke-width="2.5" stroke-linecap="round"/><path d="M70.9 245.6 C71.5 246.8 71.5 248.2 70.7 249.4" stroke-width="2.6" stroke-linecap="round"/></g>
<line x1="309.90" y1="427.30" x2="309.90" y2="541.80" stroke="#1a1a1a" stroke-width="1.05"/>
<line x1="309.30" y1="541.20" x2="517.00" y2="541.20" stroke="#000" stroke-width="1.4"/>
<line x1="308.10" y1="427.70" x2="309.90" y2="427.70" stroke="#000" stroke-width="1.0"/>
<line x1="308.10" y1="485.00" x2="309.90" y2="485.00" stroke="#000" stroke-width="1.0"/>
<line x1="308.10" y1="541.20" x2="309.90" y2="541.20" stroke="#000" stroke-width="1.0"/>
<line x1="321.35" y1="469.50" x2="321.35" y2="492.00" stroke="#000" stroke-width="1.0"/>
<line x1="319.85" y1="469.80" x2="322.85" y2="469.80" stroke="#000" stroke-width="1.15"/>
<rect x="314.75" y="492.00" width="13.20" height="49.20" fill="#000"/>
<line x1="338.04" y1="463.75" x2="338.04" y2="495.20" stroke="#000" stroke-width="1.0"/>
<line x1="336.54" y1="464.05" x2="339.54" y2="464.05" stroke="#000" stroke-width="1.15"/>
<rect x="331.44" y="495.20" width="13.20" height="46.00" fill="#000"/>
<line x1="354.73" y1="470.00" x2="354.73" y2="492.20" stroke="#000" stroke-width="1.0"/>
<line x1="353.23" y1="470.30" x2="356.23" y2="470.30" stroke="#000" stroke-width="1.15"/>
<rect x="348.13" y="492.20" width="13.20" height="49.00" fill="#000"/>
<line x1="371.42" y1="458.75" x2="371.42" y2="487.20" stroke="#000" stroke-width="1.0"/>
<line x1="369.92" y1="459.05" x2="372.92" y2="459.05" stroke="#000" stroke-width="1.15"/>
<rect x="364.82" y="487.20" width="13.20" height="54.00" fill="#000"/>
<line x1="388.11" y1="479.50" x2="388.11" y2="503.20" stroke="#000" stroke-width="1.0"/>
<line x1="386.61" y1="479.80" x2="389.61" y2="479.80" stroke="#000" stroke-width="1.15"/>
<rect x="381.51" y="503.20" width="13.20" height="38.00" fill="#000"/>
<line x1="404.80" y1="469.20" x2="404.80" y2="494.80" stroke="#000" stroke-width="1.0"/>
<line x1="403.30" y1="469.50" x2="406.30" y2="469.50" stroke="#000" stroke-width="1.15"/>
<rect x="398.75" y="495.35" width="12.10" height="45.85" fill="#c6c6c6" stroke="#000" stroke-width="1.1"/>
<line x1="421.49" y1="474.60" x2="421.49" y2="497.70" stroke="#000" stroke-width="1.0"/>
<line x1="419.99" y1="474.90" x2="422.99" y2="474.90" stroke="#000" stroke-width="1.15"/>
<rect x="415.44" y="498.25" width="12.10" height="42.95" fill="#fff" stroke="#000" stroke-width="1.1"/>
<line x1="438.18" y1="473.50" x2="438.18" y2="495.60" stroke="#000" stroke-width="1.0"/>
<line x1="436.68" y1="473.80" x2="439.68" y2="473.80" stroke="#000" stroke-width="1.15"/>
<rect x="432.13" y="496.15" width="12.10" height="45.05" fill="#fff" stroke="#000" stroke-width="1.1"/>
<line x1="454.87" y1="450.60" x2="454.87" y2="481.60" stroke="#000" stroke-width="1.0"/>
<line x1="453.37" y1="450.90" x2="456.37" y2="450.90" stroke="#000" stroke-width="1.15"/>
<rect x="448.82" y="482.15" width="12.10" height="59.05" fill="#fff" stroke="#000" stroke-width="1.1"/>
<line x1="471.56" y1="428.30" x2="471.56" y2="464.60" stroke="#000" stroke-width="1.0"/>
<line x1="470.06" y1="428.60" x2="473.06" y2="428.60" stroke="#000" stroke-width="1.15"/>
<rect x="465.51" y="465.15" width="12.10" height="76.05" fill="#fff" stroke="#000" stroke-width="1.1"/>
<line x1="488.25" y1="431.50" x2="488.25" y2="492.90" stroke="#000" stroke-width="1.0"/>
<line x1="486.75" y1="431.80" x2="489.75" y2="431.80" stroke="#000" stroke-width="1.15"/>
<rect x="482.20" y="493.45" width="12.10" height="47.75" fill="#fff" stroke="#000" stroke-width="1.1"/>
<line x1="504.94" y1="442.50" x2="504.94" y2="484.80" stroke="#000" stroke-width="1.0"/>
<line x1="503.44" y1="442.80" x2="506.44" y2="442.80" stroke="#000" stroke-width="1.15"/>
<rect x="498.89" y="485.35" width="12.10" height="55.85" fill="#c6c6c6" stroke="#000" stroke-width="1.1"/>
<path d="M323.70 545.60V559.40H321.30V548.57C319.98 549.33 318.42 549.74 317.70 549.74V547.81C319.38 547.74 320.94 546.98 321.90 545.60Z" fill="#000"/>
<text transform="translate(331.44,559.48) scale(1.1200,1)" font-size="20.14" stroke-width="0.5">2</text>
<text transform="translate(348.08,559.28) scale(1.1200,1)" font-size="19.86" stroke-width="0.5">3</text>
<text transform="translate(362.71,559.48) scale(1.1200,1)" font-size="20.44" stroke-width="0.5">4</text>
<text transform="translate(382.14,559.27) scale(1.1200,1)" font-size="20.14" stroke-width="0.5">5</text>
<text transform="translate(395.21,559.48) scale(1.1200,1)" font-size="19.44" stroke-width="0.5">m</text>
<path d="M424.20 545.60V559.40H421.80V548.57C420.48 549.33 418.92 549.74 418.20 549.74V547.81C419.88 547.74 421.44 546.98 422.40 545.60Z" fill="#000"/>
<text transform="translate(432.14,559.48) scale(1.1200,1)" font-size="20.14" stroke-width="0.5">2</text>
<text transform="translate(447.98,559.28) scale(1.1200,1)" font-size="19.86" stroke-width="0.5">3</text>
<text transform="translate(463.51,559.48) scale(1.1200,1)" font-size="20.44" stroke-width="0.5">4</text>
<text transform="translate(481.24,559.27) scale(1.1200,1)" font-size="20.14" stroke-width="0.5">5</text>
<text transform="translate(495.51,559.48) scale(1.1200,1)" font-size="19.44" stroke-width="0.5">m</text>
<path d="M290.80 421.50V435.10H288.28V424.42C286.89 425.17 285.26 425.58 284.50 425.58V423.68C286.26 423.61 287.90 422.86 288.91 421.50Z" fill="#000"/>
<text transform="translate(293.13,434.98) scale(1.2769,1)" font-size="19.43" font-weight="normal" stroke-width="0.5">0</text>
<text transform="translate(293.98,492.48) scale(1.2014,1)" font-size="19.71" font-weight="normal" stroke-width="0.5">5</text>
<text transform="translate(293.98,547.48) scale(1.2035,1)" font-size="19.58" font-weight="normal" stroke-width="0.5">0</text>
<text transform="translate(283.35,512.85) rotate(-90) scale(1.0359,1)" font-size="20.83" stroke-width="0.5">Copy</text>
<text transform="translate(347.96,580.28) scale(1.1173,1)" font-size="19.15" font-weight="normal" stroke-width="0.5">CB</text>
<text transform="translate(448.07,580.98) scale(1.0363,1)" font-size="19.56" font-weight="normal" stroke-width="0.5">AB</text>
<text transform="translate(314.33,442.07) scale(1.0805,1)" font-size="20.34" font-weight="normal" stroke-width="0.5">Total</text>
</g>
</svg>
</body></html>
